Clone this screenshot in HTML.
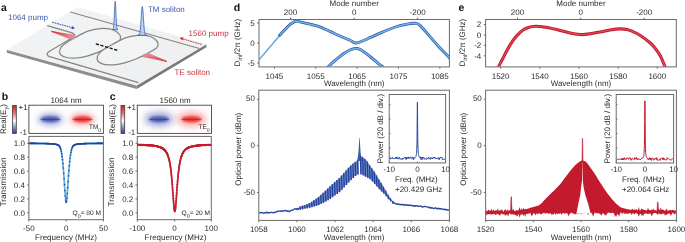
<!DOCTYPE html>
<html><head><meta charset="utf-8"><style>
html,body{margin:0;padding:0;background:#fff;width:685px;height:242px;overflow:hidden;}
svg{display:block;font-family:"Liberation Sans", sans-serif;}
#w{position:absolute;left:0;top:0;width:685px;height:242px;will-change:transform;background:#fff;}
</style></head><body><div id="w">
<svg xmlns="http://www.w3.org/2000/svg" width="685" height="242" viewBox="0 0 685 242" font-family='"Liberation Sans", sans-serif' text-rendering="geometricPrecision">
<rect width="685" height="242" fill="#fff"/>
<polygon points="6.8,49.7 136.7,85.4 136.7,89.0 6.8,52.7" fill="#8e8e8e"/>
<polygon points="136.7,85.4 206.4,44.3 206.4,47.3 136.7,89.0" fill="#7a7a7a"/>
<defs><linearGradient id="slab" x1="0" y1="0" x2="1" y2="1"><stop offset="0" stop-color="#f3f4f5"/><stop offset="1" stop-color="#eceef0"/></linearGradient></defs>
<polygon points="6.8,49.7 77.5,7 206.4,44.3 136.7,85.4" fill="url(#slab)"/>
<path d="M70.2,12.0 L199.4,48.5" stroke="#858585" stroke-width="1.2" fill="none"/>
<path d="M47.2,25.6 L70.5,32.3 C74.5,33.5 76.2,35.3 73.2,37.3 L49.5,51.2 C45.5,53.6 46.8,56.0 50.5,56.9 L138.5,82.6" stroke="#858585" stroke-width="1.2" fill="none"/>
<path d="M59.60,51.70 C59.63,50.40 60.22,48.62 61.20,47.20 C62.18,45.78 63.23,44.78 65.50,43.20 C67.77,41.62 71.05,39.72 74.80,37.70 C78.55,35.68 83.87,32.62 88.00,31.10 C92.13,29.58 96.02,28.97 99.60,28.60 C103.18,28.23 106.62,28.35 109.50,28.90 C112.38,29.45 115.07,30.63 116.90,31.90 C118.73,33.17 120.15,34.95 120.50,36.50 C120.85,38.05 120.83,39.48 119.00,41.20 C117.17,42.92 112.73,45.05 109.50,46.80 C106.27,48.55 103.18,50.20 99.60,51.70 C96.02,53.20 91.85,54.75 88.00,55.80 C84.15,56.85 80.07,57.72 76.50,58.00 C72.93,58.28 69.18,58.00 66.60,57.50 C64.02,57.00 62.17,55.97 61.00,55.00 C59.83,54.03 59.57,53.00 59.60,51.70Z" fill="#f2f3f4" stroke="#858585" stroke-width="1.25"/>
<path d="M97.10,58.50 C97.13,57.20 97.72,55.42 98.70,54.00 C99.68,52.58 100.73,51.58 103.00,50.00 C105.27,48.42 108.55,46.52 112.30,44.50 C116.05,42.48 121.37,39.42 125.50,37.90 C129.63,36.38 133.52,35.77 137.10,35.40 C140.68,35.03 144.12,35.15 147.00,35.70 C149.88,36.25 152.57,37.43 154.40,38.70 C156.23,39.97 157.65,41.75 158.00,43.30 C158.35,44.85 158.33,46.28 156.50,48.00 C154.67,49.72 150.23,51.85 147.00,53.60 C143.77,55.35 140.68,57.00 137.10,58.50 C133.52,60.00 129.35,61.55 125.50,62.60 C121.65,63.65 117.57,64.52 114.00,64.80 C110.43,65.08 106.68,64.80 104.10,64.30 C101.52,63.80 99.67,62.77 98.50,61.80 C97.33,60.83 97.07,59.80 97.10,58.50Z" fill="#f2f3f4" stroke="#858585" stroke-width="1.25"/>
<path d="M95.8,43.8 L118.5,50.6" stroke="#111" stroke-width="1.4" stroke-dasharray="3.2,1.6" fill="none"/>
<path d="M51.5,31.4 L75.5,35.4 L72.0,39.6 Z" fill="#f7dde0"/>
<line x1="51.5" y1="31.4" x2="75.50" y2="35.40" stroke="#d43a46" stroke-width="0.55"/>
<line x1="51.5" y1="31.4" x2="74.80" y2="36.24" stroke="#d43a46" stroke-width="0.55"/>
<line x1="51.5" y1="31.4" x2="74.10" y2="37.08" stroke="#d43a46" stroke-width="0.55"/>
<line x1="51.5" y1="31.4" x2="73.40" y2="37.92" stroke="#d43a46" stroke-width="0.55"/>
<line x1="51.5" y1="31.4" x2="72.70" y2="38.76" stroke="#d43a46" stroke-width="0.55"/>
<line x1="51.5" y1="31.4" x2="72.00" y2="39.60" stroke="#d43a46" stroke-width="0.55"/>
<path d="M141.5,56.4 L147.5,53.0 L166.4,61.3 Z" fill="#f7dde0"/>
<line x1="166.4" y1="61.3" x2="141.50" y2="56.40" stroke="#d43a46" stroke-width="0.55"/>
<line x1="166.4" y1="61.3" x2="142.70" y2="55.72" stroke="#d43a46" stroke-width="0.55"/>
<line x1="166.4" y1="61.3" x2="143.90" y2="55.04" stroke="#d43a46" stroke-width="0.55"/>
<line x1="166.4" y1="61.3" x2="145.10" y2="54.36" stroke="#d43a46" stroke-width="0.55"/>
<line x1="166.4" y1="61.3" x2="146.30" y2="53.68" stroke="#d43a46" stroke-width="0.55"/>
<line x1="166.4" y1="61.3" x2="147.50" y2="53.00" stroke="#d43a46" stroke-width="0.55"/>
<polygon points="112.34,29.59 112.48,29.57 112.63,29.55 112.77,29.49 112.91,29.40 113.06,29.24 113.20,28.96 113.34,28.53 113.48,27.86 113.63,26.88 113.77,25.52 113.91,23.70 114.06,21.40 114.20,18.64 114.34,15.50 114.48,12.16 114.63,8.84 114.77,5.83 114.91,3.41 115.06,1.84 115.20,1.30 115.34,1.84 115.49,3.41 115.63,5.83 115.77,8.84 115.92,12.16 116.06,15.50 116.20,18.64 116.34,21.40 116.49,23.70 116.63,25.52 116.77,26.88 116.92,27.86 117.06,28.53 117.20,28.96 117.34,29.24 117.49,29.40 117.63,29.49 117.77,29.55 117.92,29.57 118.06,29.59" fill="#a8cbec" fill-opacity="0.8" stroke="#3358aa" stroke-width="0.75"/>
<polygon points="137.90,35.39 138.12,35.37 138.34,35.35 138.56,35.29 138.78,35.20 139.00,35.03 139.22,34.75 139.44,34.30 139.66,33.62 139.88,32.62 140.10,31.23 140.32,29.38 140.54,27.03 140.76,24.21 140.98,21.00 141.20,17.59 141.42,14.20 141.64,11.12 141.86,8.65 142.08,7.05 142.30,6.50 142.52,7.05 142.74,8.65 142.96,11.12 143.18,14.20 143.40,17.59 143.62,21.00 143.84,24.21 144.06,27.03 144.28,29.38 144.50,31.23 144.72,32.62 144.94,33.62 145.16,34.30 145.38,34.75 145.60,35.03 145.82,35.20 146.04,35.29 146.26,35.35 146.48,35.37 146.70,35.39" fill="#a8cbec" fill-opacity="0.8" stroke="#3358aa" stroke-width="0.75"/>
<line x1="52.2" y1="22.2" x2="72.3" y2="27.7" stroke="#3450a8" stroke-width="0.95" stroke-dasharray="1.8,0.7"/>
<polygon points="75,28.5 71.2,29.2 72.3,25.9" fill="#3450a8"/>
<line x1="201.5" y1="44.4" x2="182" y2="38.7" stroke="#c8323c" stroke-width="0.95" stroke-dasharray="1.8,0.7"/>
<polygon points="179.6,38 183.5,37.1 182.4,40.4" fill="#c8323c"/>
<text x="1.00" y="11.30" font-size="10.5" text-anchor="start" fill="#111" font-weight="bold" >a</text>
<text x="8.00" y="20.40" font-size="8" text-anchor="start" fill="#3a5aa8" font-weight="normal" >1064 pump</text>
<text x="147.90" y="11.60" font-size="8" text-anchor="start" fill="#3a5aa8" font-weight="normal" >TM soliton</text>
<text x="188.60" y="35.50" font-size="8" text-anchor="start" fill="#c8323c" font-weight="normal" >1560 pump</text>
<text x="174.50" y="74.70" font-size="8" text-anchor="start" fill="#c8323c" font-weight="normal" >TE soliton</text>
<text x="1.70" y="100.40" font-size="10.5" text-anchor="start" fill="#111" font-weight="bold" >b</text>
<defs><linearGradient id="cbb" x1="0" y1="0" x2="0" y2="1"><stop offset="0" stop-color="#e01a1a"/><stop offset="0.3" stop-color="#f07a78"/><stop offset="0.55" stop-color="#ffffff"/><stop offset="0.8" stop-color="#8088cc"/><stop offset="1" stop-color="#3040a4"/></linearGradient></defs>
<rect x="12.6" y="105.5" width="3.700000000000001" height="27.900000000000006" fill="url(#cbb)" stroke="#3a3a3a" stroke-width="0.8"/>
<text x="18.50" y="109.80" font-size="8" text-anchor="start" fill="#2b2b2b" font-weight="normal" >+1</text>
<text x="19.80" y="134.60" font-size="8" text-anchor="start" fill="#2b2b2b" font-weight="normal" >-1</text>
<text transform="translate(6.4,134.0) rotate(-90)" font-size="8" fill="#2b2b2b">Real(E<tspan font-size="5.5" dy="1.8">y</tspan><tspan dy="-1.8">)</tspan></text>
<text x="66.00" y="103.40" font-size="8" text-anchor="middle" fill="#2b2b2b" font-weight="normal" >1064 nm</text>
<defs>
<filter id="mbf1" x="-50%" y="-100%" width="200%" height="300%"><feGaussianBlur stdDeviation="3.15"/></filter>
<filter id="mbf2" x="-50%" y="-100%" width="200%" height="300%"><feGaussianBlur stdDeviation="1.05"/></filter>
<clipPath id="mbc"><rect x="28.9" y="105.2" width="74.5" height="28.200000000000003"/></clipPath>
</defs>
<g clip-path="url(#mbc)">
<ellipse cx="50.4" cy="119.2" rx="12.5" ry="6.00" fill="#8a90d0" opacity="0.8" filter="url(#mbf1)"/>
<ellipse cx="82.4" cy="119.2" rx="12.5" ry="6.00" fill="#f49090" opacity="0.8" filter="url(#mbf1)"/>
<ellipse cx="50.4" cy="119.2" rx="9.4" ry="3.0" fill="#4654ae" opacity="0.92" filter="url(#mbf2)"/>
<ellipse cx="82.4" cy="119.2" rx="9.4" ry="3.0" fill="#e82c2c" opacity="0.92" filter="url(#mbf2)"/>
<line x1="72.5" y1="119.5" x2="92.30000000000001" y2="119.5" stroke="#6a2a2a" stroke-width="0.45"/>
<line x1="40.5" y1="119.5" x2="60.3" y2="119.5" stroke="#2a2a60" stroke-width="0.45"/>
</g>
<rect x="28.90" y="105.20" width="74.50" height="28.20" stroke="#444" stroke-width="0.9" fill="none"/>
<text x="89.0" y="128.8" font-size="6.4" fill="#2b2b2b">TM<tspan font-size="5.2" dy="3.0">0</tspan></text>
<rect x="28.90" y="136.40" width="74.50" height="83.30" stroke="#6a6a6a" stroke-width="1" fill="none"/>
<line x1="27.10" y1="212.80" x2="28.90" y2="212.80" stroke="#6a6a6a" stroke-width="1" />
<text x="24.90" y="215.70" font-size="8" text-anchor="end" fill="#2b2b2b" font-weight="normal" >0.0</text>
<line x1="27.10" y1="198.90" x2="28.90" y2="198.90" stroke="#6a6a6a" stroke-width="1" />
<text x="24.90" y="201.80" font-size="8" text-anchor="end" fill="#2b2b2b" font-weight="normal" >0.2</text>
<line x1="27.10" y1="185.00" x2="28.90" y2="185.00" stroke="#6a6a6a" stroke-width="1" />
<text x="24.90" y="187.90" font-size="8" text-anchor="end" fill="#2b2b2b" font-weight="normal" >0.4</text>
<line x1="27.10" y1="171.10" x2="28.90" y2="171.10" stroke="#6a6a6a" stroke-width="1" />
<text x="24.90" y="174.00" font-size="8" text-anchor="end" fill="#2b2b2b" font-weight="normal" >0.6</text>
<line x1="27.10" y1="157.20" x2="28.90" y2="157.20" stroke="#6a6a6a" stroke-width="1" />
<text x="24.90" y="160.10" font-size="8" text-anchor="end" fill="#2b2b2b" font-weight="normal" >0.8</text>
<line x1="27.10" y1="143.30" x2="28.90" y2="143.30" stroke="#6a6a6a" stroke-width="1" />
<text x="24.90" y="146.20" font-size="8" text-anchor="end" fill="#2b2b2b" font-weight="normal" >1.0</text>
<line x1="28.90" y1="219.70" x2="28.90" y2="221.50" stroke="#6a6a6a" stroke-width="1" />
<text x="28.90" y="231.30" font-size="8" text-anchor="middle" fill="#2b2b2b" font-weight="normal" >-50</text>
<line x1="66.20" y1="219.70" x2="66.20" y2="221.50" stroke="#6a6a6a" stroke-width="1" />
<text x="66.20" y="231.30" font-size="8" text-anchor="middle" fill="#2b2b2b" font-weight="normal" >0</text>
<line x1="103.40" y1="219.70" x2="103.40" y2="221.50" stroke="#6a6a6a" stroke-width="1" />
<text x="103.40" y="231.30" font-size="8" text-anchor="middle" fill="#2b2b2b" font-weight="normal" >50</text>
<path d="M29.50,143.39 L29.70,143.39 L29.90,143.39 L30.10,143.39 L30.30,143.39 L30.50,143.39 L30.70,143.39 L30.90,143.39 L31.10,143.39 L31.30,143.40 L31.50,143.40 L31.70,143.40 L31.90,143.40 L32.10,143.40 L32.30,143.40 L32.50,143.40 L32.70,143.40 L32.90,143.41 L33.10,143.41 L33.30,143.41 L33.50,143.41 L33.70,143.41 L33.90,143.41 L34.10,143.41 L34.30,143.41 L34.50,143.42 L34.70,143.42 L34.90,143.42 L35.10,143.42 L35.30,143.42 L35.50,143.42 L35.70,143.43 L35.90,143.43 L36.10,143.43 L36.30,143.43 L36.50,143.43 L36.70,143.43 L36.90,143.44 L37.10,143.44 L37.30,143.44 L37.50,143.44 L37.70,143.44 L37.90,143.45 L38.10,143.45 L38.30,143.45 L38.50,143.45 L38.70,143.45 L38.90,143.46 L39.10,143.46 L39.30,143.46 L39.50,143.46 L39.70,143.47 L39.90,143.47 L40.10,143.47 L40.30,143.47 L40.50,143.48 L40.70,143.48 L40.90,143.48 L41.10,143.48 L41.30,143.49 L41.50,143.49 L41.70,143.49 L41.90,143.50 L42.10,143.50 L42.30,143.50 L42.50,143.51 L42.70,143.51 L42.90,143.51 L43.10,143.52 L43.30,143.52 L43.50,143.53 L43.70,143.53 L43.90,143.53 L44.10,143.54 L44.30,143.54 L44.50,143.55 L44.70,143.55 L44.90,143.56 L45.10,143.56 L45.30,143.57 L45.50,143.57 L45.70,143.58 L45.90,143.58 L46.10,143.59 L46.30,143.59 L46.50,143.60 L46.70,143.60 L46.90,143.61 L47.10,143.62 L47.30,143.62 L47.50,143.63 L47.70,143.64 L47.90,143.65 L48.10,143.65 L48.30,143.66 L48.50,143.67 L48.70,143.68 L48.90,143.69 L49.10,143.69 L49.30,143.70 L49.50,143.71 L49.70,143.72 L49.90,143.73 L50.10,143.74 L50.30,143.76 L50.50,143.77 L50.70,143.78 L50.90,143.79 L51.10,143.80 L51.30,143.82 L51.50,143.83 L51.70,143.85 L51.90,143.86 L52.10,143.88 L52.30,143.89 L52.50,143.91 L52.70,143.93 L52.90,143.95 L53.10,143.97 L53.30,143.99 L53.50,144.01 L53.70,144.03 L53.90,144.05 L54.10,144.08 L54.30,144.10 L54.50,144.13 L54.70,144.16 L54.90,144.19 L55.10,144.22 L55.30,144.25 L55.50,144.29 L55.70,144.32 L55.90,144.36 L56.10,144.41 L56.30,144.45 L56.50,144.50 L56.70,144.55 L56.90,144.61 L57.10,144.67 L57.30,144.74 L57.50,144.81 L57.70,144.89 L57.90,144.98 L58.10,145.08 L58.30,145.20 L58.50,145.33 L58.70,145.48 L58.90,145.65 L59.10,145.85 L59.30,146.07 L59.50,146.34 L59.70,146.64 L59.90,146.99 L60.10,147.40 L60.30,147.87 L60.50,148.41 L60.70,149.03 L60.90,149.74 L61.10,150.55 L61.30,151.47 L61.50,152.50 L61.70,153.66 L61.90,154.95 L62.10,156.38 L62.30,157.95 L62.50,159.68 L62.70,161.56 L62.90,163.59 L63.10,165.77 L63.30,168.10 L63.50,170.58 L63.70,173.18 L63.90,175.91 L64.10,178.75 L64.30,181.67 L64.50,184.64 L64.70,187.63 L64.90,190.58 L65.10,193.41 L65.30,196.04 L65.50,198.36 L65.70,200.25 L65.90,201.59 L66.10,202.29 L66.30,202.29 L66.50,201.59 L66.70,200.25 L66.90,198.36 L67.10,196.04 L67.30,193.41 L67.50,190.58 L67.70,187.63 L67.90,184.64 L68.10,181.67 L68.30,178.75 L68.50,175.91 L68.70,173.18 L68.90,170.58 L69.10,168.10 L69.30,165.77 L69.50,163.59 L69.70,161.56 L69.90,159.68 L70.10,157.95 L70.30,156.38 L70.50,154.95 L70.70,153.66 L70.90,152.50 L71.10,151.47 L71.30,150.55 L71.50,149.74 L71.70,149.03 L71.90,148.41 L72.10,147.87 L72.30,147.40 L72.50,146.99 L72.70,146.64 L72.90,146.34 L73.10,146.07 L73.30,145.85 L73.50,145.65 L73.70,145.48 L73.90,145.33 L74.10,145.20 L74.30,145.08 L74.50,144.98 L74.70,144.89 L74.90,144.81 L75.10,144.74 L75.30,144.67 L75.50,144.61 L75.70,144.55 L75.90,144.50 L76.10,144.45 L76.30,144.41 L76.50,144.36 L76.70,144.32 L76.90,144.29 L77.10,144.25 L77.30,144.22 L77.50,144.19 L77.70,144.16 L77.90,144.13 L78.10,144.10 L78.30,144.08 L78.50,144.05 L78.70,144.03 L78.90,144.01 L79.10,143.99 L79.30,143.97 L79.50,143.95 L79.70,143.93 L79.90,143.91 L80.10,143.89 L80.30,143.88 L80.50,143.86 L80.70,143.85 L80.90,143.83 L81.10,143.82 L81.30,143.80 L81.50,143.79 L81.70,143.78 L81.90,143.77 L82.10,143.76 L82.30,143.74 L82.50,143.73 L82.70,143.72 L82.90,143.71 L83.10,143.70 L83.30,143.69 L83.50,143.69 L83.70,143.68 L83.90,143.67 L84.10,143.66 L84.30,143.65 L84.50,143.65 L84.70,143.64 L84.90,143.63 L85.10,143.62 L85.30,143.62 L85.50,143.61 L85.70,143.60 L85.90,143.60 L86.10,143.59 L86.30,143.59 L86.50,143.58 L86.70,143.58 L86.90,143.57 L87.10,143.57 L87.30,143.56 L87.50,143.56 L87.70,143.55 L87.90,143.55 L88.10,143.54 L88.30,143.54 L88.50,143.53 L88.70,143.53 L88.90,143.53 L89.10,143.52 L89.30,143.52 L89.50,143.51 L89.70,143.51 L89.90,143.51 L90.10,143.50 L90.30,143.50 L90.50,143.50 L90.70,143.49 L90.90,143.49 L91.10,143.49 L91.30,143.48 L91.50,143.48 L91.70,143.48 L91.90,143.48 L92.10,143.47 L92.30,143.47 L92.50,143.47 L92.70,143.47 L92.90,143.46 L93.10,143.46 L93.30,143.46 L93.50,143.46 L93.70,143.45 L93.90,143.45 L94.10,143.45 L94.30,143.45 L94.50,143.45 L94.70,143.44 L94.90,143.44 L95.10,143.44 L95.30,143.44 L95.50,143.44 L95.70,143.43 L95.90,143.43 L96.10,143.43 L96.30,143.43 L96.50,143.43 L96.70,143.43 L96.90,143.42 L97.10,143.42 L97.30,143.42 L97.50,143.42 L97.70,143.42 L97.90,143.42 L98.10,143.41 L98.30,143.41 L98.50,143.41 L98.70,143.41 L98.90,143.41 L99.10,143.41 L99.30,143.41 L99.50,143.41 L99.70,143.40 L99.90,143.40 L100.10,143.40 L100.30,143.40 L100.50,143.40 L100.70,143.40 L100.90,143.40 L101.10,143.40 L101.30,143.39 L101.50,143.39 L101.70,143.39 L101.90,143.39 L102.10,143.39 L102.30,143.39 L102.50,143.39 L102.70,143.39" stroke="#62aee4" stroke-width="1.7" fill="none"/>
<circle cx="29.70" cy="143.39" r="0.8" fill="#22449c"/>
<circle cx="30.10" cy="143.39" r="0.8" fill="#22449c"/>
<circle cx="30.50" cy="143.39" r="0.8" fill="#22449c"/>
<circle cx="30.90" cy="143.39" r="0.8" fill="#22449c"/>
<circle cx="31.30" cy="143.40" r="0.8" fill="#22449c"/>
<circle cx="31.70" cy="143.40" r="0.8" fill="#22449c"/>
<circle cx="32.10" cy="143.40" r="0.8" fill="#22449c"/>
<circle cx="32.50" cy="143.40" r="0.8" fill="#22449c"/>
<circle cx="32.90" cy="143.41" r="0.8" fill="#22449c"/>
<circle cx="33.30" cy="143.41" r="0.8" fill="#22449c"/>
<circle cx="33.70" cy="143.41" r="0.8" fill="#22449c"/>
<circle cx="34.10" cy="143.41" r="0.8" fill="#22449c"/>
<circle cx="34.50" cy="143.42" r="0.8" fill="#22449c"/>
<circle cx="34.90" cy="143.42" r="0.8" fill="#22449c"/>
<circle cx="35.30" cy="143.42" r="0.8" fill="#22449c"/>
<circle cx="35.70" cy="143.43" r="0.8" fill="#22449c"/>
<circle cx="36.10" cy="143.43" r="0.8" fill="#22449c"/>
<circle cx="36.50" cy="143.43" r="0.8" fill="#22449c"/>
<circle cx="36.90" cy="143.44" r="0.8" fill="#22449c"/>
<circle cx="37.30" cy="143.44" r="0.8" fill="#22449c"/>
<circle cx="37.70" cy="143.44" r="0.8" fill="#22449c"/>
<circle cx="38.10" cy="143.45" r="0.8" fill="#22449c"/>
<circle cx="38.50" cy="143.45" r="0.8" fill="#22449c"/>
<circle cx="38.90" cy="143.46" r="0.8" fill="#22449c"/>
<circle cx="39.30" cy="143.46" r="0.8" fill="#22449c"/>
<circle cx="39.70" cy="143.47" r="0.8" fill="#22449c"/>
<circle cx="40.10" cy="143.47" r="0.8" fill="#22449c"/>
<circle cx="40.50" cy="143.48" r="0.8" fill="#22449c"/>
<circle cx="40.90" cy="143.48" r="0.8" fill="#22449c"/>
<circle cx="41.30" cy="143.49" r="0.8" fill="#22449c"/>
<circle cx="41.70" cy="143.49" r="0.8" fill="#22449c"/>
<circle cx="42.10" cy="143.50" r="0.8" fill="#22449c"/>
<circle cx="42.50" cy="143.51" r="0.8" fill="#22449c"/>
<circle cx="42.90" cy="143.51" r="0.8" fill="#22449c"/>
<circle cx="43.30" cy="143.52" r="0.8" fill="#22449c"/>
<circle cx="43.70" cy="143.53" r="0.8" fill="#22449c"/>
<circle cx="44.10" cy="143.54" r="0.8" fill="#22449c"/>
<circle cx="44.50" cy="143.55" r="0.8" fill="#22449c"/>
<circle cx="44.90" cy="143.56" r="0.8" fill="#22449c"/>
<circle cx="45.30" cy="143.57" r="0.8" fill="#22449c"/>
<circle cx="45.70" cy="143.58" r="0.8" fill="#22449c"/>
<circle cx="46.10" cy="143.59" r="0.8" fill="#22449c"/>
<circle cx="46.50" cy="143.60" r="0.8" fill="#22449c"/>
<circle cx="46.90" cy="143.61" r="0.8" fill="#22449c"/>
<circle cx="47.30" cy="143.62" r="0.8" fill="#22449c"/>
<circle cx="47.70" cy="143.64" r="0.8" fill="#22449c"/>
<circle cx="48.10" cy="143.65" r="0.8" fill="#22449c"/>
<circle cx="48.50" cy="143.67" r="0.8" fill="#22449c"/>
<circle cx="48.90" cy="143.69" r="0.8" fill="#22449c"/>
<circle cx="49.30" cy="143.70" r="0.8" fill="#22449c"/>
<circle cx="49.70" cy="143.72" r="0.8" fill="#22449c"/>
<circle cx="50.10" cy="143.74" r="0.8" fill="#22449c"/>
<circle cx="50.50" cy="143.77" r="0.8" fill="#22449c"/>
<circle cx="50.90" cy="143.79" r="0.8" fill="#22449c"/>
<circle cx="51.30" cy="143.82" r="0.8" fill="#22449c"/>
<circle cx="51.70" cy="143.85" r="0.8" fill="#22449c"/>
<circle cx="52.10" cy="143.88" r="0.8" fill="#22449c"/>
<circle cx="52.50" cy="143.91" r="0.8" fill="#22449c"/>
<circle cx="52.90" cy="143.95" r="0.8" fill="#22449c"/>
<circle cx="53.30" cy="143.99" r="0.8" fill="#22449c"/>
<circle cx="53.70" cy="144.03" r="0.8" fill="#22449c"/>
<circle cx="54.10" cy="144.08" r="0.8" fill="#22449c"/>
<circle cx="54.50" cy="144.13" r="0.8" fill="#22449c"/>
<circle cx="54.90" cy="144.19" r="0.8" fill="#22449c"/>
<circle cx="55.30" cy="144.25" r="0.8" fill="#22449c"/>
<circle cx="55.70" cy="144.32" r="0.8" fill="#22449c"/>
<circle cx="56.10" cy="144.41" r="0.8" fill="#22449c"/>
<circle cx="56.50" cy="144.50" r="0.8" fill="#22449c"/>
<circle cx="56.90" cy="144.61" r="0.8" fill="#22449c"/>
<circle cx="57.30" cy="144.74" r="0.8" fill="#22449c"/>
<circle cx="57.70" cy="144.89" r="0.8" fill="#22449c"/>
<circle cx="58.10" cy="145.08" r="0.8" fill="#22449c"/>
<circle cx="58.50" cy="145.33" r="0.8" fill="#22449c"/>
<circle cx="58.90" cy="145.65" r="0.8" fill="#22449c"/>
<circle cx="59.30" cy="146.07" r="0.8" fill="#22449c"/>
<circle cx="59.70" cy="146.64" r="0.8" fill="#22449c"/>
<circle cx="60.10" cy="147.40" r="0.8" fill="#22449c"/>
<circle cx="60.50" cy="148.41" r="0.8" fill="#22449c"/>
<circle cx="60.90" cy="149.74" r="0.8" fill="#22449c"/>
<circle cx="61.30" cy="151.47" r="0.8" fill="#22449c"/>
<circle cx="61.70" cy="153.66" r="0.8" fill="#22449c"/>
<circle cx="62.10" cy="156.38" r="0.8" fill="#22449c"/>
<circle cx="62.50" cy="159.68" r="0.8" fill="#22449c"/>
<circle cx="62.90" cy="163.59" r="0.8" fill="#22449c"/>
<circle cx="63.30" cy="168.10" r="0.8" fill="#22449c"/>
<circle cx="63.70" cy="173.18" r="0.8" fill="#22449c"/>
<circle cx="64.10" cy="178.75" r="0.8" fill="#22449c"/>
<circle cx="64.50" cy="184.64" r="0.8" fill="#22449c"/>
<circle cx="64.90" cy="190.58" r="0.8" fill="#22449c"/>
<circle cx="65.30" cy="196.04" r="0.8" fill="#22449c"/>
<circle cx="65.70" cy="200.25" r="0.8" fill="#22449c"/>
<circle cx="66.10" cy="202.29" r="0.8" fill="#22449c"/>
<circle cx="66.50" cy="201.59" r="0.8" fill="#22449c"/>
<circle cx="66.90" cy="198.36" r="0.8" fill="#22449c"/>
<circle cx="67.30" cy="193.41" r="0.8" fill="#22449c"/>
<circle cx="67.70" cy="187.63" r="0.8" fill="#22449c"/>
<circle cx="68.10" cy="181.67" r="0.8" fill="#22449c"/>
<circle cx="68.50" cy="175.91" r="0.8" fill="#22449c"/>
<circle cx="68.90" cy="170.58" r="0.8" fill="#22449c"/>
<circle cx="69.30" cy="165.77" r="0.8" fill="#22449c"/>
<circle cx="69.70" cy="161.56" r="0.8" fill="#22449c"/>
<circle cx="70.10" cy="157.95" r="0.8" fill="#22449c"/>
<circle cx="70.50" cy="154.95" r="0.8" fill="#22449c"/>
<circle cx="70.90" cy="152.50" r="0.8" fill="#22449c"/>
<circle cx="71.30" cy="150.55" r="0.8" fill="#22449c"/>
<circle cx="71.70" cy="149.03" r="0.8" fill="#22449c"/>
<circle cx="72.10" cy="147.87" r="0.8" fill="#22449c"/>
<circle cx="72.50" cy="146.99" r="0.8" fill="#22449c"/>
<circle cx="72.90" cy="146.34" r="0.8" fill="#22449c"/>
<circle cx="73.30" cy="145.85" r="0.8" fill="#22449c"/>
<circle cx="73.70" cy="145.48" r="0.8" fill="#22449c"/>
<circle cx="74.10" cy="145.20" r="0.8" fill="#22449c"/>
<circle cx="74.50" cy="144.98" r="0.8" fill="#22449c"/>
<circle cx="74.90" cy="144.81" r="0.8" fill="#22449c"/>
<circle cx="75.30" cy="144.67" r="0.8" fill="#22449c"/>
<circle cx="75.70" cy="144.55" r="0.8" fill="#22449c"/>
<circle cx="76.10" cy="144.45" r="0.8" fill="#22449c"/>
<circle cx="76.50" cy="144.36" r="0.8" fill="#22449c"/>
<circle cx="76.90" cy="144.29" r="0.8" fill="#22449c"/>
<circle cx="77.30" cy="144.22" r="0.8" fill="#22449c"/>
<circle cx="77.70" cy="144.16" r="0.8" fill="#22449c"/>
<circle cx="78.10" cy="144.10" r="0.8" fill="#22449c"/>
<circle cx="78.50" cy="144.05" r="0.8" fill="#22449c"/>
<circle cx="78.90" cy="144.01" r="0.8" fill="#22449c"/>
<circle cx="79.30" cy="143.97" r="0.8" fill="#22449c"/>
<circle cx="79.70" cy="143.93" r="0.8" fill="#22449c"/>
<circle cx="80.10" cy="143.89" r="0.8" fill="#22449c"/>
<circle cx="80.50" cy="143.86" r="0.8" fill="#22449c"/>
<circle cx="80.90" cy="143.83" r="0.8" fill="#22449c"/>
<circle cx="81.30" cy="143.80" r="0.8" fill="#22449c"/>
<circle cx="81.70" cy="143.78" r="0.8" fill="#22449c"/>
<circle cx="82.10" cy="143.76" r="0.8" fill="#22449c"/>
<circle cx="82.50" cy="143.73" r="0.8" fill="#22449c"/>
<circle cx="82.90" cy="143.71" r="0.8" fill="#22449c"/>
<circle cx="83.30" cy="143.69" r="0.8" fill="#22449c"/>
<circle cx="83.70" cy="143.68" r="0.8" fill="#22449c"/>
<circle cx="84.10" cy="143.66" r="0.8" fill="#22449c"/>
<circle cx="84.50" cy="143.65" r="0.8" fill="#22449c"/>
<circle cx="84.90" cy="143.63" r="0.8" fill="#22449c"/>
<circle cx="85.30" cy="143.62" r="0.8" fill="#22449c"/>
<circle cx="85.70" cy="143.60" r="0.8" fill="#22449c"/>
<circle cx="86.10" cy="143.59" r="0.8" fill="#22449c"/>
<circle cx="86.50" cy="143.58" r="0.8" fill="#22449c"/>
<circle cx="86.90" cy="143.57" r="0.8" fill="#22449c"/>
<circle cx="87.30" cy="143.56" r="0.8" fill="#22449c"/>
<circle cx="87.70" cy="143.55" r="0.8" fill="#22449c"/>
<circle cx="88.10" cy="143.54" r="0.8" fill="#22449c"/>
<circle cx="88.50" cy="143.53" r="0.8" fill="#22449c"/>
<circle cx="88.90" cy="143.53" r="0.8" fill="#22449c"/>
<circle cx="89.30" cy="143.52" r="0.8" fill="#22449c"/>
<circle cx="89.70" cy="143.51" r="0.8" fill="#22449c"/>
<circle cx="90.10" cy="143.50" r="0.8" fill="#22449c"/>
<circle cx="90.50" cy="143.50" r="0.8" fill="#22449c"/>
<circle cx="90.90" cy="143.49" r="0.8" fill="#22449c"/>
<circle cx="91.30" cy="143.48" r="0.8" fill="#22449c"/>
<circle cx="91.70" cy="143.48" r="0.8" fill="#22449c"/>
<circle cx="92.10" cy="143.47" r="0.8" fill="#22449c"/>
<circle cx="92.50" cy="143.47" r="0.8" fill="#22449c"/>
<circle cx="92.90" cy="143.46" r="0.8" fill="#22449c"/>
<circle cx="93.30" cy="143.46" r="0.8" fill="#22449c"/>
<circle cx="93.70" cy="143.45" r="0.8" fill="#22449c"/>
<circle cx="94.10" cy="143.45" r="0.8" fill="#22449c"/>
<circle cx="94.50" cy="143.45" r="0.8" fill="#22449c"/>
<circle cx="94.90" cy="143.44" r="0.8" fill="#22449c"/>
<circle cx="95.30" cy="143.44" r="0.8" fill="#22449c"/>
<circle cx="95.70" cy="143.43" r="0.8" fill="#22449c"/>
<circle cx="96.10" cy="143.43" r="0.8" fill="#22449c"/>
<circle cx="96.50" cy="143.43" r="0.8" fill="#22449c"/>
<circle cx="96.90" cy="143.42" r="0.8" fill="#22449c"/>
<circle cx="97.30" cy="143.42" r="0.8" fill="#22449c"/>
<circle cx="97.70" cy="143.42" r="0.8" fill="#22449c"/>
<circle cx="98.10" cy="143.41" r="0.8" fill="#22449c"/>
<circle cx="98.50" cy="143.41" r="0.8" fill="#22449c"/>
<circle cx="98.90" cy="143.41" r="0.8" fill="#22449c"/>
<circle cx="99.30" cy="143.41" r="0.8" fill="#22449c"/>
<circle cx="99.70" cy="143.40" r="0.8" fill="#22449c"/>
<circle cx="100.10" cy="143.40" r="0.8" fill="#22449c"/>
<circle cx="100.50" cy="143.40" r="0.8" fill="#22449c"/>
<circle cx="100.90" cy="143.40" r="0.8" fill="#22449c"/>
<circle cx="101.30" cy="143.39" r="0.8" fill="#22449c"/>
<circle cx="101.70" cy="143.39" r="0.8" fill="#22449c"/>
<circle cx="102.10" cy="143.39" r="0.8" fill="#22449c"/>
<circle cx="102.50" cy="143.39" r="0.8" fill="#22449c"/>
<text x="72.5" y="215.3" font-size="6.6" fill="#2b2b2b">Q<tspan font-size="5.4" dy="2.8">0</tspan><tspan dy="-2.8">= 80 M</tspan></text>
<text transform="translate(6.3,182.0) rotate(-90)" font-size="8.3" fill="#2b2b2b" text-anchor="middle">Transmission</text>
<text x="66.00" y="239.50" font-size="8" text-anchor="middle" fill="#2b2b2b" font-weight="normal" >Frequency (MHz)</text>
<text x="109.70" y="100.40" font-size="10.5" text-anchor="start" fill="#111" font-weight="bold" >c</text>
<defs><linearGradient id="cbc" x1="0" y1="0" x2="0" y2="1"><stop offset="0" stop-color="#e01a1a"/><stop offset="0.3" stop-color="#f07a78"/><stop offset="0.55" stop-color="#ffffff"/><stop offset="0.8" stop-color="#8088cc"/><stop offset="1" stop-color="#3040a4"/></linearGradient></defs>
<rect x="121.0" y="105.5" width="3.700000000000003" height="27.900000000000006" fill="url(#cbc)" stroke="#3a3a3a" stroke-width="0.8"/>
<text x="126.90" y="109.80" font-size="8" text-anchor="start" fill="#2b2b2b" font-weight="normal" >+1</text>
<text x="128.20" y="134.60" font-size="8" text-anchor="start" fill="#2b2b2b" font-weight="normal" >-1</text>
<text transform="translate(114.6,134.0) rotate(-90)" font-size="8" fill="#2b2b2b">Real(E<tspan font-size="5.5" dy="1.8">x</tspan><tspan dy="-1.8">)</tspan></text>
<text x="175.10" y="103.40" font-size="8" text-anchor="middle" fill="#2b2b2b" font-weight="normal" >1560 nm</text>
<defs>
<filter id="mcf1" x="-50%" y="-100%" width="200%" height="300%"><feGaussianBlur stdDeviation="3.78"/></filter>
<filter id="mcf2" x="-50%" y="-100%" width="200%" height="300%"><feGaussianBlur stdDeviation="1.05"/></filter>
<clipPath id="mcc"><rect x="137.3" y="105.2" width="74.19999999999999" height="28.200000000000003"/></clipPath>
</defs>
<g clip-path="url(#mcc)">
<ellipse cx="159.0" cy="119.2" rx="14.5" ry="7.20" fill="#8a90d0" opacity="0.8" filter="url(#mcf1)"/>
<ellipse cx="191.5" cy="119.2" rx="14.5" ry="7.20" fill="#f49090" opacity="0.8" filter="url(#mcf1)"/>
<ellipse cx="159.0" cy="119.2" rx="9.6" ry="3.0" fill="#4654ae" opacity="0.92" filter="url(#mcf2)"/>
<ellipse cx="191.5" cy="119.2" rx="9.6" ry="3.0" fill="#e82c2c" opacity="0.92" filter="url(#mcf2)"/>
<line x1="181.4" y1="119.5" x2="201.6" y2="119.5" stroke="#6a2a2a" stroke-width="0.45"/>
<line x1="148.9" y1="119.5" x2="169.1" y2="119.5" stroke="#2a2a60" stroke-width="0.45"/>
</g>
<rect x="137.30" y="105.20" width="74.20" height="28.20" stroke="#444" stroke-width="0.9" fill="none"/>
<text x="198.6" y="128.8" font-size="6.4" fill="#2b2b2b">TE<tspan font-size="5.2" dy="3.0">0</tspan></text>
<rect x="137.30" y="136.40" width="74.00" height="83.30" stroke="#6a6a6a" stroke-width="1" fill="none"/>
<line x1="135.50" y1="212.80" x2="137.30" y2="212.80" stroke="#6a6a6a" stroke-width="1" />
<text x="133.30" y="215.70" font-size="8" text-anchor="end" fill="#2b2b2b" font-weight="normal" >0.0</text>
<line x1="135.50" y1="198.90" x2="137.30" y2="198.90" stroke="#6a6a6a" stroke-width="1" />
<text x="133.30" y="201.80" font-size="8" text-anchor="end" fill="#2b2b2b" font-weight="normal" >0.2</text>
<line x1="135.50" y1="185.00" x2="137.30" y2="185.00" stroke="#6a6a6a" stroke-width="1" />
<text x="133.30" y="187.90" font-size="8" text-anchor="end" fill="#2b2b2b" font-weight="normal" >0.4</text>
<line x1="135.50" y1="171.10" x2="137.30" y2="171.10" stroke="#6a6a6a" stroke-width="1" />
<text x="133.30" y="174.00" font-size="8" text-anchor="end" fill="#2b2b2b" font-weight="normal" >0.6</text>
<line x1="135.50" y1="157.20" x2="137.30" y2="157.20" stroke="#6a6a6a" stroke-width="1" />
<text x="133.30" y="160.10" font-size="8" text-anchor="end" fill="#2b2b2b" font-weight="normal" >0.8</text>
<line x1="135.50" y1="143.30" x2="137.30" y2="143.30" stroke="#6a6a6a" stroke-width="1" />
<text x="133.30" y="146.20" font-size="8" text-anchor="end" fill="#2b2b2b" font-weight="normal" >1.0</text>
<line x1="137.30" y1="219.70" x2="137.30" y2="221.50" stroke="#6a6a6a" stroke-width="1" />
<text x="137.30" y="231.30" font-size="8" text-anchor="middle" fill="#2b2b2b" font-weight="normal" >-100</text>
<line x1="174.60" y1="219.70" x2="174.60" y2="221.50" stroke="#6a6a6a" stroke-width="1" />
<text x="174.60" y="231.30" font-size="8" text-anchor="middle" fill="#2b2b2b" font-weight="normal" >0</text>
<line x1="211.30" y1="219.70" x2="211.30" y2="221.50" stroke="#6a6a6a" stroke-width="1" />
<text x="211.30" y="231.30" font-size="8" text-anchor="middle" fill="#2b2b2b" font-weight="normal" >100</text>
<path d="M137.90,144.81 L138.10,144.82 L138.30,144.82 L138.50,144.83 L138.70,144.83 L138.90,144.84 L139.10,144.84 L139.30,144.85 L139.50,144.85 L139.70,144.86 L139.90,144.87 L140.10,144.87 L140.30,144.88 L140.50,144.88 L140.70,144.89 L140.90,144.90 L141.10,144.90 L141.30,144.91 L141.50,144.92 L141.70,144.92 L141.90,144.93 L142.10,144.94 L142.30,144.95 L142.50,144.95 L142.70,144.96 L142.90,144.97 L143.10,144.98 L143.30,144.98 L143.50,144.99 L143.70,145.00 L143.90,145.01 L144.10,145.02 L144.30,145.03 L144.50,145.04 L144.70,145.04 L144.90,145.05 L145.10,145.06 L145.30,145.07 L145.50,145.08 L145.70,145.09 L145.90,145.10 L146.10,145.11 L146.30,145.12 L146.50,145.14 L146.70,145.15 L146.90,145.16 L147.10,145.17 L147.30,145.18 L147.50,145.19 L147.70,145.21 L147.90,145.22 L148.10,145.23 L148.30,145.25 L148.50,145.26 L148.70,145.27 L148.90,145.29 L149.10,145.30 L149.30,145.32 L149.50,145.33 L149.70,145.35 L149.90,145.36 L150.10,145.38 L150.30,145.40 L150.50,145.41 L150.70,145.43 L150.90,145.45 L151.10,145.47 L151.30,145.49 L151.50,145.51 L151.70,145.53 L151.90,145.55 L152.10,145.57 L152.30,145.59 L152.50,145.61 L152.70,145.63 L152.90,145.66 L153.10,145.68 L153.30,145.70 L153.50,145.73 L153.70,145.76 L153.90,145.78 L154.10,145.81 L154.30,145.84 L154.50,145.87 L154.70,145.90 L154.90,145.93 L155.10,145.96 L155.30,145.99 L155.50,146.02 L155.70,146.06 L155.90,146.09 L156.10,146.13 L156.30,146.17 L156.50,146.21 L156.70,146.25 L156.90,146.29 L157.10,146.33 L157.30,146.38 L157.50,146.42 L157.70,146.47 L157.90,146.52 L158.10,146.57 L158.30,146.62 L158.50,146.68 L158.70,146.73 L158.90,146.79 L159.10,146.85 L159.30,146.91 L159.50,146.98 L159.70,147.05 L159.90,147.12 L160.10,147.19 L160.30,147.26 L160.50,147.34 L160.70,147.43 L160.90,147.51 L161.10,147.60 L161.30,147.69 L161.50,147.79 L161.70,147.89 L161.90,147.99 L162.10,148.10 L162.30,148.22 L162.50,148.34 L162.70,148.46 L162.90,148.59 L163.10,148.73 L163.30,148.87 L163.50,149.02 L163.70,149.18 L163.90,149.35 L164.10,149.52 L164.30,149.70 L164.50,149.90 L164.70,150.10 L164.90,150.31 L165.10,150.54 L165.30,150.78 L165.50,151.03 L165.70,151.29 L165.90,151.58 L166.10,151.87 L166.30,152.19 L166.50,152.53 L166.70,152.88 L166.90,153.26 L167.10,153.67 L167.30,154.10 L167.50,154.56 L167.70,155.05 L167.90,155.57 L168.10,156.13 L168.30,156.73 L168.50,157.38 L168.70,158.07 L168.90,158.81 L169.10,159.60 L169.30,160.46 L169.50,161.39 L169.70,162.38 L169.90,163.45 L170.10,164.61 L170.30,165.86 L170.50,167.21 L170.70,168.66 L170.90,170.23 L171.10,171.92 L171.30,173.73 L171.50,175.68 L171.70,177.77 L171.90,180.00 L172.10,182.36 L172.30,184.85 L172.50,187.46 L172.70,190.17 L172.90,192.94 L173.10,195.74 L173.30,198.52 L173.50,201.20 L173.70,203.72 L173.90,206.00 L174.10,207.96 L174.30,209.51 L174.50,210.58 L174.70,211.13 L174.90,211.13 L175.10,210.58 L175.30,209.51 L175.50,207.96 L175.70,206.00 L175.90,203.72 L176.10,201.20 L176.30,198.52 L176.50,195.74 L176.70,192.94 L176.90,190.17 L177.10,187.46 L177.30,184.85 L177.50,182.36 L177.70,180.00 L177.90,177.77 L178.10,175.68 L178.30,173.73 L178.50,171.92 L178.70,170.23 L178.90,168.66 L179.10,167.21 L179.30,165.86 L179.50,164.61 L179.70,163.45 L179.90,162.38 L180.10,161.39 L180.30,160.46 L180.50,159.60 L180.70,158.81 L180.90,158.07 L181.10,157.38 L181.30,156.73 L181.50,156.13 L181.70,155.57 L181.90,155.05 L182.10,154.56 L182.30,154.10 L182.50,153.67 L182.70,153.26 L182.90,152.88 L183.10,152.53 L183.30,152.19 L183.50,151.87 L183.70,151.58 L183.90,151.29 L184.10,151.03 L184.30,150.78 L184.50,150.54 L184.70,150.31 L184.90,150.10 L185.10,149.90 L185.30,149.70 L185.50,149.52 L185.70,149.35 L185.90,149.18 L186.10,149.02 L186.30,148.87 L186.50,148.73 L186.70,148.59 L186.90,148.46 L187.10,148.34 L187.30,148.22 L187.50,148.10 L187.70,147.99 L187.90,147.89 L188.10,147.79 L188.30,147.69 L188.50,147.60 L188.70,147.51 L188.90,147.43 L189.10,147.34 L189.30,147.26 L189.50,147.19 L189.70,147.12 L189.90,147.05 L190.10,146.98 L190.30,146.91 L190.50,146.85 L190.70,146.79 L190.90,146.73 L191.10,146.68 L191.30,146.62 L191.50,146.57 L191.70,146.52 L191.90,146.47 L192.10,146.42 L192.30,146.38 L192.50,146.33 L192.70,146.29 L192.90,146.25 L193.10,146.21 L193.30,146.17 L193.50,146.13 L193.70,146.09 L193.90,146.06 L194.10,146.02 L194.30,145.99 L194.50,145.96 L194.70,145.93 L194.90,145.90 L195.10,145.87 L195.30,145.84 L195.50,145.81 L195.70,145.78 L195.90,145.76 L196.10,145.73 L196.30,145.70 L196.50,145.68 L196.70,145.66 L196.90,145.63 L197.10,145.61 L197.30,145.59 L197.50,145.57 L197.70,145.55 L197.90,145.53 L198.10,145.51 L198.30,145.49 L198.50,145.47 L198.70,145.45 L198.90,145.43 L199.10,145.41 L199.30,145.40 L199.50,145.38 L199.70,145.36 L199.90,145.35 L200.10,145.33 L200.30,145.32 L200.50,145.30 L200.70,145.29 L200.90,145.27 L201.10,145.26 L201.30,145.25 L201.50,145.23 L201.70,145.22 L201.90,145.21 L202.10,145.19 L202.30,145.18 L202.50,145.17 L202.70,145.16 L202.90,145.15 L203.10,145.14 L203.30,145.12 L203.50,145.11 L203.70,145.10 L203.90,145.09 L204.10,145.08 L204.30,145.07 L204.50,145.06 L204.70,145.05 L204.90,145.04 L205.10,145.04 L205.30,145.03 L205.50,145.02 L205.70,145.01 L205.90,145.00 L206.10,144.99 L206.30,144.98 L206.50,144.98 L206.70,144.97 L206.90,144.96 L207.10,144.95 L207.30,144.95 L207.50,144.94 L207.70,144.93 L207.90,144.92 L208.10,144.92 L208.30,144.91 L208.50,144.90 L208.70,144.90 L208.90,144.89 L209.10,144.88 L209.30,144.88 L209.50,144.87 L209.70,144.87 L209.90,144.86 L210.10,144.85 L210.30,144.85 L210.50,144.84" stroke="#c8283a" stroke-width="1.7" fill="none"/>
<circle cx="138.10" cy="144.61" r="0.9" fill="#c41e2e"/>
<circle cx="138.30" cy="144.52" r="0.9" fill="#c41e2e"/>
<circle cx="138.50" cy="145.09" r="0.9" fill="#c41e2e"/>
<circle cx="138.70" cy="145.06" r="0.9" fill="#c41e2e"/>
<circle cx="138.90" cy="145.13" r="0.9" fill="#c41e2e"/>
<circle cx="139.10" cy="144.80" r="0.9" fill="#c41e2e"/>
<circle cx="139.30" cy="145.12" r="0.9" fill="#c41e2e"/>
<circle cx="139.50" cy="145.11" r="0.9" fill="#c41e2e"/>
<circle cx="139.70" cy="144.69" r="0.9" fill="#c41e2e"/>
<circle cx="139.90" cy="145.01" r="0.9" fill="#c41e2e"/>
<circle cx="140.10" cy="145.07" r="0.9" fill="#c41e2e"/>
<circle cx="140.30" cy="144.98" r="0.9" fill="#c41e2e"/>
<circle cx="140.50" cy="144.90" r="0.9" fill="#c41e2e"/>
<circle cx="140.70" cy="144.76" r="0.9" fill="#c41e2e"/>
<circle cx="140.90" cy="144.80" r="0.9" fill="#c41e2e"/>
<circle cx="141.10" cy="144.74" r="0.9" fill="#c41e2e"/>
<circle cx="141.30" cy="144.65" r="0.9" fill="#c41e2e"/>
<circle cx="141.50" cy="144.97" r="0.9" fill="#c41e2e"/>
<circle cx="141.70" cy="144.80" r="0.9" fill="#c41e2e"/>
<circle cx="141.90" cy="145.12" r="0.9" fill="#c41e2e"/>
<circle cx="142.10" cy="144.67" r="0.9" fill="#c41e2e"/>
<circle cx="142.30" cy="145.19" r="0.9" fill="#c41e2e"/>
<circle cx="142.50" cy="145.07" r="0.9" fill="#c41e2e"/>
<circle cx="142.70" cy="145.21" r="0.9" fill="#c41e2e"/>
<circle cx="142.90" cy="145.21" r="0.9" fill="#c41e2e"/>
<circle cx="143.10" cy="145.22" r="0.9" fill="#c41e2e"/>
<circle cx="143.30" cy="145.03" r="0.9" fill="#c41e2e"/>
<circle cx="143.50" cy="144.70" r="0.9" fill="#c41e2e"/>
<circle cx="143.70" cy="145.15" r="0.9" fill="#c41e2e"/>
<circle cx="143.90" cy="144.81" r="0.9" fill="#c41e2e"/>
<circle cx="144.10" cy="144.90" r="0.9" fill="#c41e2e"/>
<circle cx="144.30" cy="145.12" r="0.9" fill="#c41e2e"/>
<circle cx="144.50" cy="145.05" r="0.9" fill="#c41e2e"/>
<circle cx="144.70" cy="144.99" r="0.9" fill="#c41e2e"/>
<circle cx="144.90" cy="145.32" r="0.9" fill="#c41e2e"/>
<circle cx="145.10" cy="145.13" r="0.9" fill="#c41e2e"/>
<circle cx="145.30" cy="144.98" r="0.9" fill="#c41e2e"/>
<circle cx="145.50" cy="144.93" r="0.9" fill="#c41e2e"/>
<circle cx="145.70" cy="145.31" r="0.9" fill="#c41e2e"/>
<circle cx="145.90" cy="145.09" r="0.9" fill="#c41e2e"/>
<circle cx="146.10" cy="145.28" r="0.9" fill="#c41e2e"/>
<circle cx="146.30" cy="145.04" r="0.9" fill="#c41e2e"/>
<circle cx="146.50" cy="144.95" r="0.9" fill="#c41e2e"/>
<circle cx="146.70" cy="145.17" r="0.9" fill="#c41e2e"/>
<circle cx="146.90" cy="145.35" r="0.9" fill="#c41e2e"/>
<circle cx="147.10" cy="144.97" r="0.9" fill="#c41e2e"/>
<circle cx="147.30" cy="145.36" r="0.9" fill="#c41e2e"/>
<circle cx="147.50" cy="145.45" r="0.9" fill="#c41e2e"/>
<circle cx="147.70" cy="145.39" r="0.9" fill="#c41e2e"/>
<circle cx="147.90" cy="145.41" r="0.9" fill="#c41e2e"/>
<circle cx="148.10" cy="144.94" r="0.9" fill="#c41e2e"/>
<circle cx="148.30" cy="145.32" r="0.9" fill="#c41e2e"/>
<circle cx="148.50" cy="145.48" r="0.9" fill="#c41e2e"/>
<circle cx="148.70" cy="145.00" r="0.9" fill="#c41e2e"/>
<circle cx="148.90" cy="145.15" r="0.9" fill="#c41e2e"/>
<circle cx="149.10" cy="145.16" r="0.9" fill="#c41e2e"/>
<circle cx="149.30" cy="145.33" r="0.9" fill="#c41e2e"/>
<circle cx="149.50" cy="145.29" r="0.9" fill="#c41e2e"/>
<circle cx="149.70" cy="145.33" r="0.9" fill="#c41e2e"/>
<circle cx="149.90" cy="145.53" r="0.9" fill="#c41e2e"/>
<circle cx="150.10" cy="145.08" r="0.9" fill="#c41e2e"/>
<circle cx="150.30" cy="145.13" r="0.9" fill="#c41e2e"/>
<circle cx="150.50" cy="145.19" r="0.9" fill="#c41e2e"/>
<circle cx="150.70" cy="145.21" r="0.9" fill="#c41e2e"/>
<circle cx="150.90" cy="145.19" r="0.9" fill="#c41e2e"/>
<circle cx="151.10" cy="145.75" r="0.9" fill="#c41e2e"/>
<circle cx="151.30" cy="145.70" r="0.9" fill="#c41e2e"/>
<circle cx="151.50" cy="145.26" r="0.9" fill="#c41e2e"/>
<circle cx="151.70" cy="145.53" r="0.9" fill="#c41e2e"/>
<circle cx="151.90" cy="145.44" r="0.9" fill="#c41e2e"/>
<circle cx="152.10" cy="145.46" r="0.9" fill="#c41e2e"/>
<circle cx="152.30" cy="145.50" r="0.9" fill="#c41e2e"/>
<circle cx="152.50" cy="145.70" r="0.9" fill="#c41e2e"/>
<circle cx="152.70" cy="145.68" r="0.9" fill="#c41e2e"/>
<circle cx="152.90" cy="145.57" r="0.9" fill="#c41e2e"/>
<circle cx="153.10" cy="145.49" r="0.9" fill="#c41e2e"/>
<circle cx="153.30" cy="145.60" r="0.9" fill="#c41e2e"/>
<circle cx="153.50" cy="145.50" r="0.9" fill="#c41e2e"/>
<circle cx="153.70" cy="145.79" r="0.9" fill="#c41e2e"/>
<circle cx="153.90" cy="145.91" r="0.9" fill="#c41e2e"/>
<circle cx="154.10" cy="145.74" r="0.9" fill="#c41e2e"/>
<circle cx="154.30" cy="145.59" r="0.9" fill="#c41e2e"/>
<circle cx="154.50" cy="145.67" r="0.9" fill="#c41e2e"/>
<circle cx="154.70" cy="145.82" r="0.9" fill="#c41e2e"/>
<circle cx="154.90" cy="145.99" r="0.9" fill="#c41e2e"/>
<circle cx="155.10" cy="146.13" r="0.9" fill="#c41e2e"/>
<circle cx="155.30" cy="145.92" r="0.9" fill="#c41e2e"/>
<circle cx="155.50" cy="146.20" r="0.9" fill="#c41e2e"/>
<circle cx="155.70" cy="146.13" r="0.9" fill="#c41e2e"/>
<circle cx="155.90" cy="146.05" r="0.9" fill="#c41e2e"/>
<circle cx="156.10" cy="146.05" r="0.9" fill="#c41e2e"/>
<circle cx="156.30" cy="146.17" r="0.9" fill="#c41e2e"/>
<circle cx="156.50" cy="146.33" r="0.9" fill="#c41e2e"/>
<circle cx="156.70" cy="146.20" r="0.9" fill="#c41e2e"/>
<circle cx="156.90" cy="146.41" r="0.9" fill="#c41e2e"/>
<circle cx="157.10" cy="146.31" r="0.9" fill="#c41e2e"/>
<circle cx="157.30" cy="146.22" r="0.9" fill="#c41e2e"/>
<circle cx="157.50" cy="146.44" r="0.9" fill="#c41e2e"/>
<circle cx="157.70" cy="146.59" r="0.9" fill="#c41e2e"/>
<circle cx="157.90" cy="146.26" r="0.9" fill="#c41e2e"/>
<circle cx="158.10" cy="146.52" r="0.9" fill="#c41e2e"/>
<circle cx="158.30" cy="146.58" r="0.9" fill="#c41e2e"/>
<circle cx="158.50" cy="146.90" r="0.9" fill="#c41e2e"/>
<circle cx="158.70" cy="146.99" r="0.9" fill="#c41e2e"/>
<circle cx="158.90" cy="146.72" r="0.9" fill="#c41e2e"/>
<circle cx="159.10" cy="147.09" r="0.9" fill="#c41e2e"/>
<circle cx="159.30" cy="147.09" r="0.9" fill="#c41e2e"/>
<circle cx="159.50" cy="146.84" r="0.9" fill="#c41e2e"/>
<circle cx="159.70" cy="147.02" r="0.9" fill="#c41e2e"/>
<circle cx="159.90" cy="146.89" r="0.9" fill="#c41e2e"/>
<circle cx="160.10" cy="147.38" r="0.9" fill="#c41e2e"/>
<circle cx="160.30" cy="147.36" r="0.9" fill="#c41e2e"/>
<circle cx="160.50" cy="147.58" r="0.9" fill="#c41e2e"/>
<circle cx="160.70" cy="147.60" r="0.9" fill="#c41e2e"/>
<circle cx="160.90" cy="147.61" r="0.9" fill="#c41e2e"/>
<circle cx="161.10" cy="147.74" r="0.9" fill="#c41e2e"/>
<circle cx="161.30" cy="147.73" r="0.9" fill="#c41e2e"/>
<circle cx="161.50" cy="147.55" r="0.9" fill="#c41e2e"/>
<circle cx="161.70" cy="147.94" r="0.9" fill="#c41e2e"/>
<circle cx="161.90" cy="147.70" r="0.9" fill="#c41e2e"/>
<circle cx="162.10" cy="147.89" r="0.9" fill="#c41e2e"/>
<circle cx="162.30" cy="148.38" r="0.9" fill="#c41e2e"/>
<circle cx="162.50" cy="148.06" r="0.9" fill="#c41e2e"/>
<circle cx="162.70" cy="148.22" r="0.9" fill="#c41e2e"/>
<circle cx="162.90" cy="148.35" r="0.9" fill="#c41e2e"/>
<circle cx="163.10" cy="148.96" r="0.9" fill="#c41e2e"/>
<circle cx="163.30" cy="148.68" r="0.9" fill="#c41e2e"/>
<circle cx="163.50" cy="148.74" r="0.9" fill="#c41e2e"/>
<circle cx="163.70" cy="149.38" r="0.9" fill="#c41e2e"/>
<circle cx="163.90" cy="149.12" r="0.9" fill="#c41e2e"/>
<circle cx="164.10" cy="149.73" r="0.9" fill="#c41e2e"/>
<circle cx="164.30" cy="149.81" r="0.9" fill="#c41e2e"/>
<circle cx="164.50" cy="150.10" r="0.9" fill="#c41e2e"/>
<circle cx="164.70" cy="150.37" r="0.9" fill="#c41e2e"/>
<circle cx="164.90" cy="150.36" r="0.9" fill="#c41e2e"/>
<circle cx="165.10" cy="150.72" r="0.9" fill="#c41e2e"/>
<circle cx="165.30" cy="150.50" r="0.9" fill="#c41e2e"/>
<circle cx="165.50" cy="151.19" r="0.9" fill="#c41e2e"/>
<circle cx="165.70" cy="151.30" r="0.9" fill="#c41e2e"/>
<circle cx="165.90" cy="151.71" r="0.9" fill="#c41e2e"/>
<circle cx="166.10" cy="151.64" r="0.9" fill="#c41e2e"/>
<circle cx="166.30" cy="152.34" r="0.9" fill="#c41e2e"/>
<circle cx="166.50" cy="152.79" r="0.9" fill="#c41e2e"/>
<circle cx="166.70" cy="152.62" r="0.9" fill="#c41e2e"/>
<circle cx="166.90" cy="153.16" r="0.9" fill="#c41e2e"/>
<circle cx="167.10" cy="153.71" r="0.9" fill="#c41e2e"/>
<circle cx="167.30" cy="154.30" r="0.9" fill="#c41e2e"/>
<circle cx="167.50" cy="154.40" r="0.9" fill="#c41e2e"/>
<circle cx="167.70" cy="154.86" r="0.9" fill="#c41e2e"/>
<circle cx="167.90" cy="155.42" r="0.9" fill="#c41e2e"/>
<circle cx="168.10" cy="156.20" r="0.9" fill="#c41e2e"/>
<circle cx="168.30" cy="156.88" r="0.9" fill="#c41e2e"/>
<circle cx="168.50" cy="157.31" r="0.9" fill="#c41e2e"/>
<circle cx="168.70" cy="157.99" r="0.9" fill="#c41e2e"/>
<circle cx="168.90" cy="158.75" r="0.9" fill="#c41e2e"/>
<circle cx="169.10" cy="159.51" r="0.9" fill="#c41e2e"/>
<circle cx="169.30" cy="160.41" r="0.9" fill="#c41e2e"/>
<circle cx="169.50" cy="161.14" r="0.9" fill="#c41e2e"/>
<circle cx="169.70" cy="162.38" r="0.9" fill="#c41e2e"/>
<circle cx="169.90" cy="163.74" r="0.9" fill="#c41e2e"/>
<circle cx="170.10" cy="164.56" r="0.9" fill="#c41e2e"/>
<circle cx="170.30" cy="166.01" r="0.9" fill="#c41e2e"/>
<circle cx="170.50" cy="167.00" r="0.9" fill="#c41e2e"/>
<circle cx="170.70" cy="168.78" r="0.9" fill="#c41e2e"/>
<circle cx="170.90" cy="170.38" r="0.9" fill="#c41e2e"/>
<circle cx="171.10" cy="172.02" r="0.9" fill="#c41e2e"/>
<circle cx="171.30" cy="173.75" r="0.9" fill="#c41e2e"/>
<circle cx="171.50" cy="175.67" r="0.9" fill="#c41e2e"/>
<circle cx="171.70" cy="177.86" r="0.9" fill="#c41e2e"/>
<circle cx="171.90" cy="180.24" r="0.9" fill="#c41e2e"/>
<circle cx="172.10" cy="182.15" r="0.9" fill="#c41e2e"/>
<circle cx="172.30" cy="184.61" r="0.9" fill="#c41e2e"/>
<circle cx="172.50" cy="187.61" r="0.9" fill="#c41e2e"/>
<circle cx="172.70" cy="190.42" r="0.9" fill="#c41e2e"/>
<circle cx="172.90" cy="192.95" r="0.9" fill="#c41e2e"/>
<circle cx="173.10" cy="195.71" r="0.9" fill="#c41e2e"/>
<circle cx="173.30" cy="198.65" r="0.9" fill="#c41e2e"/>
<circle cx="173.50" cy="201.01" r="0.9" fill="#c41e2e"/>
<circle cx="173.70" cy="203.59" r="0.9" fill="#c41e2e"/>
<circle cx="173.90" cy="205.82" r="0.9" fill="#c41e2e"/>
<circle cx="174.10" cy="208.01" r="0.9" fill="#c41e2e"/>
<circle cx="174.30" cy="209.40" r="0.9" fill="#c41e2e"/>
<circle cx="174.50" cy="210.42" r="0.9" fill="#c41e2e"/>
<circle cx="174.70" cy="211.25" r="0.9" fill="#c41e2e"/>
<circle cx="174.90" cy="211.40" r="0.9" fill="#c41e2e"/>
<circle cx="175.10" cy="210.46" r="0.9" fill="#c41e2e"/>
<circle cx="175.30" cy="209.63" r="0.9" fill="#c41e2e"/>
<circle cx="175.50" cy="207.91" r="0.9" fill="#c41e2e"/>
<circle cx="175.70" cy="206.22" r="0.9" fill="#c41e2e"/>
<circle cx="175.90" cy="203.78" r="0.9" fill="#c41e2e"/>
<circle cx="176.10" cy="201.06" r="0.9" fill="#c41e2e"/>
<circle cx="176.30" cy="198.35" r="0.9" fill="#c41e2e"/>
<circle cx="176.50" cy="195.46" r="0.9" fill="#c41e2e"/>
<circle cx="176.70" cy="192.93" r="0.9" fill="#c41e2e"/>
<circle cx="176.90" cy="190.10" r="0.9" fill="#c41e2e"/>
<circle cx="177.10" cy="187.27" r="0.9" fill="#c41e2e"/>
<circle cx="177.30" cy="184.77" r="0.9" fill="#c41e2e"/>
<circle cx="177.50" cy="182.25" r="0.9" fill="#c41e2e"/>
<circle cx="177.70" cy="180.16" r="0.9" fill="#c41e2e"/>
<circle cx="177.90" cy="177.56" r="0.9" fill="#c41e2e"/>
<circle cx="178.10" cy="175.98" r="0.9" fill="#c41e2e"/>
<circle cx="178.30" cy="173.72" r="0.9" fill="#c41e2e"/>
<circle cx="178.50" cy="171.98" r="0.9" fill="#c41e2e"/>
<circle cx="178.70" cy="170.21" r="0.9" fill="#c41e2e"/>
<circle cx="178.90" cy="168.86" r="0.9" fill="#c41e2e"/>
<circle cx="179.10" cy="167.40" r="0.9" fill="#c41e2e"/>
<circle cx="179.30" cy="165.89" r="0.9" fill="#c41e2e"/>
<circle cx="179.50" cy="164.60" r="0.9" fill="#c41e2e"/>
<circle cx="179.70" cy="163.59" r="0.9" fill="#c41e2e"/>
<circle cx="179.90" cy="162.59" r="0.9" fill="#c41e2e"/>
<circle cx="180.10" cy="161.33" r="0.9" fill="#c41e2e"/>
<circle cx="180.30" cy="160.60" r="0.9" fill="#c41e2e"/>
<circle cx="180.50" cy="159.88" r="0.9" fill="#c41e2e"/>
<circle cx="180.70" cy="158.79" r="0.9" fill="#c41e2e"/>
<circle cx="180.90" cy="157.90" r="0.9" fill="#c41e2e"/>
<circle cx="181.10" cy="157.22" r="0.9" fill="#c41e2e"/>
<circle cx="181.30" cy="156.86" r="0.9" fill="#c41e2e"/>
<circle cx="181.50" cy="156.24" r="0.9" fill="#c41e2e"/>
<circle cx="181.70" cy="155.85" r="0.9" fill="#c41e2e"/>
<circle cx="181.90" cy="155.26" r="0.9" fill="#c41e2e"/>
<circle cx="182.10" cy="154.40" r="0.9" fill="#c41e2e"/>
<circle cx="182.30" cy="153.91" r="0.9" fill="#c41e2e"/>
<circle cx="182.50" cy="153.52" r="0.9" fill="#c41e2e"/>
<circle cx="182.70" cy="153.08" r="0.9" fill="#c41e2e"/>
<circle cx="182.90" cy="153.01" r="0.9" fill="#c41e2e"/>
<circle cx="183.10" cy="152.74" r="0.9" fill="#c41e2e"/>
<circle cx="183.30" cy="152.43" r="0.9" fill="#c41e2e"/>
<circle cx="183.50" cy="151.73" r="0.9" fill="#c41e2e"/>
<circle cx="183.70" cy="151.80" r="0.9" fill="#c41e2e"/>
<circle cx="183.90" cy="151.18" r="0.9" fill="#c41e2e"/>
<circle cx="184.10" cy="150.98" r="0.9" fill="#c41e2e"/>
<circle cx="184.30" cy="150.91" r="0.9" fill="#c41e2e"/>
<circle cx="184.50" cy="150.29" r="0.9" fill="#c41e2e"/>
<circle cx="184.70" cy="150.07" r="0.9" fill="#c41e2e"/>
<circle cx="184.90" cy="150.30" r="0.9" fill="#c41e2e"/>
<circle cx="185.10" cy="149.77" r="0.9" fill="#c41e2e"/>
<circle cx="185.30" cy="149.62" r="0.9" fill="#c41e2e"/>
<circle cx="185.50" cy="149.57" r="0.9" fill="#c41e2e"/>
<circle cx="185.70" cy="149.45" r="0.9" fill="#c41e2e"/>
<circle cx="185.90" cy="148.88" r="0.9" fill="#c41e2e"/>
<circle cx="186.10" cy="148.92" r="0.9" fill="#c41e2e"/>
<circle cx="186.30" cy="148.83" r="0.9" fill="#c41e2e"/>
<circle cx="186.50" cy="148.72" r="0.9" fill="#c41e2e"/>
<circle cx="186.70" cy="148.42" r="0.9" fill="#c41e2e"/>
<circle cx="186.90" cy="148.51" r="0.9" fill="#c41e2e"/>
<circle cx="187.10" cy="148.61" r="0.9" fill="#c41e2e"/>
<circle cx="187.30" cy="148.15" r="0.9" fill="#c41e2e"/>
<circle cx="187.50" cy="148.13" r="0.9" fill="#c41e2e"/>
<circle cx="187.70" cy="147.76" r="0.9" fill="#c41e2e"/>
<circle cx="187.90" cy="147.75" r="0.9" fill="#c41e2e"/>
<circle cx="188.10" cy="147.89" r="0.9" fill="#c41e2e"/>
<circle cx="188.30" cy="147.46" r="0.9" fill="#c41e2e"/>
<circle cx="188.50" cy="147.83" r="0.9" fill="#c41e2e"/>
<circle cx="188.70" cy="147.76" r="0.9" fill="#c41e2e"/>
<circle cx="188.90" cy="147.18" r="0.9" fill="#c41e2e"/>
<circle cx="189.10" cy="147.61" r="0.9" fill="#c41e2e"/>
<circle cx="189.30" cy="147.19" r="0.9" fill="#c41e2e"/>
<circle cx="189.50" cy="147.35" r="0.9" fill="#c41e2e"/>
<circle cx="189.70" cy="147.27" r="0.9" fill="#c41e2e"/>
<circle cx="189.90" cy="146.92" r="0.9" fill="#c41e2e"/>
<circle cx="190.10" cy="147.08" r="0.9" fill="#c41e2e"/>
<circle cx="190.30" cy="147.01" r="0.9" fill="#c41e2e"/>
<circle cx="190.50" cy="147.03" r="0.9" fill="#c41e2e"/>
<circle cx="190.70" cy="146.65" r="0.9" fill="#c41e2e"/>
<circle cx="190.90" cy="146.89" r="0.9" fill="#c41e2e"/>
<circle cx="191.10" cy="146.95" r="0.9" fill="#c41e2e"/>
<circle cx="191.30" cy="146.73" r="0.9" fill="#c41e2e"/>
<circle cx="191.50" cy="146.59" r="0.9" fill="#c41e2e"/>
<circle cx="191.70" cy="146.29" r="0.9" fill="#c41e2e"/>
<circle cx="191.90" cy="146.47" r="0.9" fill="#c41e2e"/>
<circle cx="192.10" cy="146.33" r="0.9" fill="#c41e2e"/>
<circle cx="192.30" cy="146.51" r="0.9" fill="#c41e2e"/>
<circle cx="192.50" cy="146.44" r="0.9" fill="#c41e2e"/>
<circle cx="192.70" cy="146.33" r="0.9" fill="#c41e2e"/>
<circle cx="192.90" cy="146.06" r="0.9" fill="#c41e2e"/>
<circle cx="193.10" cy="146.29" r="0.9" fill="#c41e2e"/>
<circle cx="193.30" cy="146.25" r="0.9" fill="#c41e2e"/>
<circle cx="193.50" cy="145.94" r="0.9" fill="#c41e2e"/>
<circle cx="193.70" cy="146.33" r="0.9" fill="#c41e2e"/>
<circle cx="193.90" cy="146.15" r="0.9" fill="#c41e2e"/>
<circle cx="194.10" cy="145.80" r="0.9" fill="#c41e2e"/>
<circle cx="194.30" cy="146.25" r="0.9" fill="#c41e2e"/>
<circle cx="194.50" cy="145.74" r="0.9" fill="#c41e2e"/>
<circle cx="194.70" cy="145.83" r="0.9" fill="#c41e2e"/>
<circle cx="194.90" cy="146.03" r="0.9" fill="#c41e2e"/>
<circle cx="195.10" cy="145.92" r="0.9" fill="#c41e2e"/>
<circle cx="195.30" cy="145.87" r="0.9" fill="#c41e2e"/>
<circle cx="195.50" cy="145.90" r="0.9" fill="#c41e2e"/>
<circle cx="195.70" cy="145.76" r="0.9" fill="#c41e2e"/>
<circle cx="195.90" cy="145.64" r="0.9" fill="#c41e2e"/>
<circle cx="196.10" cy="145.54" r="0.9" fill="#c41e2e"/>
<circle cx="196.30" cy="145.45" r="0.9" fill="#c41e2e"/>
<circle cx="196.50" cy="145.81" r="0.9" fill="#c41e2e"/>
<circle cx="196.70" cy="145.81" r="0.9" fill="#c41e2e"/>
<circle cx="196.90" cy="145.66" r="0.9" fill="#c41e2e"/>
<circle cx="197.10" cy="145.75" r="0.9" fill="#c41e2e"/>
<circle cx="197.30" cy="145.50" r="0.9" fill="#c41e2e"/>
<circle cx="197.50" cy="145.43" r="0.9" fill="#c41e2e"/>
<circle cx="197.70" cy="145.48" r="0.9" fill="#c41e2e"/>
<circle cx="197.90" cy="145.75" r="0.9" fill="#c41e2e"/>
<circle cx="198.10" cy="145.23" r="0.9" fill="#c41e2e"/>
<circle cx="198.30" cy="145.49" r="0.9" fill="#c41e2e"/>
<circle cx="198.50" cy="145.32" r="0.9" fill="#c41e2e"/>
<circle cx="198.70" cy="145.61" r="0.9" fill="#c41e2e"/>
<circle cx="198.90" cy="145.34" r="0.9" fill="#c41e2e"/>
<circle cx="199.10" cy="145.31" r="0.9" fill="#c41e2e"/>
<circle cx="199.30" cy="145.34" r="0.9" fill="#c41e2e"/>
<circle cx="199.50" cy="145.40" r="0.9" fill="#c41e2e"/>
<circle cx="199.70" cy="145.53" r="0.9" fill="#c41e2e"/>
<circle cx="199.90" cy="145.26" r="0.9" fill="#c41e2e"/>
<circle cx="200.10" cy="145.54" r="0.9" fill="#c41e2e"/>
<circle cx="200.30" cy="145.08" r="0.9" fill="#c41e2e"/>
<circle cx="200.50" cy="145.16" r="0.9" fill="#c41e2e"/>
<circle cx="200.70" cy="145.05" r="0.9" fill="#c41e2e"/>
<circle cx="200.90" cy="145.04" r="0.9" fill="#c41e2e"/>
<circle cx="201.10" cy="145.43" r="0.9" fill="#c41e2e"/>
<circle cx="201.30" cy="145.38" r="0.9" fill="#c41e2e"/>
<circle cx="201.50" cy="145.04" r="0.9" fill="#c41e2e"/>
<circle cx="201.70" cy="145.03" r="0.9" fill="#c41e2e"/>
<circle cx="201.90" cy="145.16" r="0.9" fill="#c41e2e"/>
<circle cx="202.10" cy="145.34" r="0.9" fill="#c41e2e"/>
<circle cx="202.30" cy="145.37" r="0.9" fill="#c41e2e"/>
<circle cx="202.50" cy="145.32" r="0.9" fill="#c41e2e"/>
<circle cx="202.70" cy="145.21" r="0.9" fill="#c41e2e"/>
<circle cx="202.90" cy="144.93" r="0.9" fill="#c41e2e"/>
<circle cx="203.10" cy="145.07" r="0.9" fill="#c41e2e"/>
<circle cx="203.30" cy="144.94" r="0.9" fill="#c41e2e"/>
<circle cx="203.50" cy="145.13" r="0.9" fill="#c41e2e"/>
<circle cx="203.70" cy="145.14" r="0.9" fill="#c41e2e"/>
<circle cx="203.90" cy="144.91" r="0.9" fill="#c41e2e"/>
<circle cx="204.10" cy="144.93" r="0.9" fill="#c41e2e"/>
<circle cx="204.30" cy="145.24" r="0.9" fill="#c41e2e"/>
<circle cx="204.50" cy="144.78" r="0.9" fill="#c41e2e"/>
<circle cx="204.70" cy="145.24" r="0.9" fill="#c41e2e"/>
<circle cx="204.90" cy="145.28" r="0.9" fill="#c41e2e"/>
<circle cx="205.10" cy="145.30" r="0.9" fill="#c41e2e"/>
<circle cx="205.30" cy="144.96" r="0.9" fill="#c41e2e"/>
<circle cx="205.50" cy="145.05" r="0.9" fill="#c41e2e"/>
<circle cx="205.70" cy="145.06" r="0.9" fill="#c41e2e"/>
<circle cx="205.90" cy="145.08" r="0.9" fill="#c41e2e"/>
<circle cx="206.10" cy="145.28" r="0.9" fill="#c41e2e"/>
<circle cx="206.30" cy="145.10" r="0.9" fill="#c41e2e"/>
<circle cx="206.50" cy="144.86" r="0.9" fill="#c41e2e"/>
<circle cx="206.70" cy="145.18" r="0.9" fill="#c41e2e"/>
<circle cx="206.90" cy="144.95" r="0.9" fill="#c41e2e"/>
<circle cx="207.10" cy="145.01" r="0.9" fill="#c41e2e"/>
<circle cx="207.30" cy="145.08" r="0.9" fill="#c41e2e"/>
<circle cx="207.50" cy="144.64" r="0.9" fill="#c41e2e"/>
<circle cx="207.70" cy="145.09" r="0.9" fill="#c41e2e"/>
<circle cx="207.90" cy="145.02" r="0.9" fill="#c41e2e"/>
<circle cx="208.10" cy="144.91" r="0.9" fill="#c41e2e"/>
<circle cx="208.30" cy="144.92" r="0.9" fill="#c41e2e"/>
<circle cx="208.50" cy="144.88" r="0.9" fill="#c41e2e"/>
<circle cx="208.70" cy="144.71" r="0.9" fill="#c41e2e"/>
<circle cx="208.90" cy="144.91" r="0.9" fill="#c41e2e"/>
<circle cx="209.10" cy="144.61" r="0.9" fill="#c41e2e"/>
<circle cx="209.30" cy="144.88" r="0.9" fill="#c41e2e"/>
<circle cx="209.50" cy="144.96" r="0.9" fill="#c41e2e"/>
<circle cx="209.70" cy="144.83" r="0.9" fill="#c41e2e"/>
<circle cx="209.90" cy="144.90" r="0.9" fill="#c41e2e"/>
<circle cx="210.10" cy="145.13" r="0.9" fill="#c41e2e"/>
<circle cx="210.30" cy="145.08" r="0.9" fill="#c41e2e"/>
<circle cx="210.50" cy="144.62" r="0.9" fill="#c41e2e"/>
<circle cx="210.70" cy="145.01" r="0.9" fill="#c41e2e"/>
<text x="181.6" y="215.3" font-size="6.6" fill="#2b2b2b">Q<tspan font-size="5.4" dy="2.8">0</tspan><tspan dy="-2.8">= 20 M</tspan></text>
<text transform="translate(114.3,182.0) rotate(-90)" font-size="8.3" fill="#2b2b2b" text-anchor="middle">Transmission</text>
<text x="175.50" y="239.50" font-size="8" text-anchor="middle" fill="#2b2b2b" font-weight="normal" >Frequency (MHz)</text>
<defs><clipPath id="cdt"><rect x="259" y="19.5" width="190.4" height="47.1"/></clipPath><clipPath id="cet"><rect x="485.6" y="19.5" width="190.7" height="47.1"/></clipPath></defs>
<rect x="259.00" y="19.50" width="190.40" height="47.40" stroke="#6a6a6a" stroke-width="1" fill="none"/>
<line x1="257.20" y1="23.00" x2="259.00" y2="23.00" stroke="#6a6a6a" stroke-width="1" />
<text x="254.70" y="25.90" font-size="8" text-anchor="end" fill="#2b2b2b" font-weight="normal" >5</text>
<line x1="257.20" y1="43.00" x2="259.00" y2="43.00" stroke="#6a6a6a" stroke-width="1" />
<text x="254.70" y="45.90" font-size="8" text-anchor="end" fill="#2b2b2b" font-weight="normal" >0</text>
<line x1="257.20" y1="63.00" x2="259.00" y2="63.00" stroke="#6a6a6a" stroke-width="1" />
<text x="254.70" y="65.90" font-size="8" text-anchor="end" fill="#2b2b2b" font-weight="normal" >-5</text>
<line x1="274.40" y1="66.90" x2="274.40" y2="68.70" stroke="#6a6a6a" stroke-width="1" />
<text x="274.40" y="78.60" font-size="8" text-anchor="middle" fill="#2b2b2b" font-weight="normal" >1045</text>
<line x1="315.75" y1="66.90" x2="315.75" y2="68.70" stroke="#6a6a6a" stroke-width="1" />
<text x="315.75" y="78.60" font-size="8" text-anchor="middle" fill="#2b2b2b" font-weight="normal" >1055</text>
<line x1="357.10" y1="66.90" x2="357.10" y2="68.70" stroke="#6a6a6a" stroke-width="1" />
<text x="357.10" y="78.60" font-size="8" text-anchor="middle" fill="#2b2b2b" font-weight="normal" >1065</text>
<line x1="398.45" y1="66.90" x2="398.45" y2="68.70" stroke="#6a6a6a" stroke-width="1" />
<text x="398.45" y="78.60" font-size="8" text-anchor="middle" fill="#2b2b2b" font-weight="normal" >1075</text>
<line x1="439.80" y1="66.90" x2="439.80" y2="68.70" stroke="#6a6a6a" stroke-width="1" />
<text x="439.80" y="78.60" font-size="8" text-anchor="middle" fill="#2b2b2b" font-weight="normal" >1085</text>
<line x1="290.50" y1="17.70" x2="290.50" y2="19.50" stroke="#6a6a6a" stroke-width="1" />
<text x="290.50" y="15.00" font-size="8" text-anchor="middle" fill="#2b2b2b" font-weight="normal" >200</text>
<line x1="354.20" y1="17.70" x2="354.20" y2="19.50" stroke="#6a6a6a" stroke-width="1" />
<text x="354.20" y="15.00" font-size="8" text-anchor="middle" fill="#2b2b2b" font-weight="normal" >0</text>
<line x1="417.60" y1="17.70" x2="417.60" y2="19.50" stroke="#6a6a6a" stroke-width="1" />
<text x="417.60" y="15.00" font-size="8" text-anchor="middle" fill="#2b2b2b" font-weight="normal" >-200</text>
<text x="354.20" y="5.90" font-size="8" text-anchor="middle" fill="#2b2b2b" font-weight="normal" >Mode number</text>
<text x="354.20" y="85.80" font-size="8" text-anchor="middle" fill="#2b2b2b" font-weight="normal" >Wavelength (nm)</text>
<text transform="translate(240.0,66.6) rotate(-90)" font-size="8" fill="#2b2b2b">D<tspan font-size="6" dy="2">int</tspan><tspan dy="-2">/2π (GHz)</tspan></text>
<text x="233.80" y="11.20" font-size="10.5" text-anchor="start" fill="#111" font-weight="bold" >d</text>
<g clip-path="url(#cdt)">
<path d="M259,59.8 L281,34.0" stroke="#5aa6dc" stroke-width="1.4" fill="none"/>
<path d="M279.70,35.20 C280.67,34.17 283.70,30.83 285.50,29.00 C287.30,27.17 289.12,25.37 290.50,24.20 C291.88,23.03 292.88,22.52 293.80,22.00 C294.72,21.48 294.97,21.12 296.00,21.10 C297.03,21.08 297.67,21.38 300.00,21.90 C302.33,22.42 306.67,23.37 310.00,24.20 C313.33,25.03 316.67,25.70 320.00,26.90 C323.33,28.10 326.67,29.88 330.00,31.40 C333.33,32.92 336.67,34.52 340.00,36.00 C343.33,37.48 347.42,39.13 350.00,40.30 C352.58,41.47 353.83,42.72 355.50,43.00 C357.17,43.28 357.58,42.88 360.00,42.00 C362.42,41.12 366.67,39.18 370.00,37.70 C373.33,36.22 376.67,34.55 380.00,33.10 C383.33,31.65 386.67,30.23 390.00,29.00 C393.33,27.77 396.67,26.60 400.00,25.70 C403.33,24.80 407.50,24.00 410.00,23.60 C412.50,23.20 413.33,23.02 415.00,23.30 C416.67,23.58 417.50,23.08 420.00,25.30 C422.50,27.52 426.67,32.82 430.00,36.60 C433.33,40.38 436.83,44.55 440.00,48.00 C443.17,51.45 447.00,55.22 449.00,57.30 C451.00,59.38 451.50,59.97 452.00,60.50" stroke="#2e52a4" stroke-width="2.9" fill="none" stroke-linecap="round"/>
<path d="M279.70,35.20 C280.67,34.17 283.70,30.83 285.50,29.00 C287.30,27.17 289.12,25.37 290.50,24.20 C291.88,23.03 292.88,22.52 293.80,22.00 C294.72,21.48 294.97,21.12 296.00,21.10 C297.03,21.08 297.67,21.38 300.00,21.90 C302.33,22.42 306.67,23.37 310.00,24.20 C313.33,25.03 316.67,25.70 320.00,26.90 C323.33,28.10 326.67,29.88 330.00,31.40 C333.33,32.92 336.67,34.52 340.00,36.00 C343.33,37.48 347.42,39.13 350.00,40.30 C352.58,41.47 353.83,42.72 355.50,43.00 C357.17,43.28 357.58,42.88 360.00,42.00 C362.42,41.12 366.67,39.18 370.00,37.70 C373.33,36.22 376.67,34.55 380.00,33.10 C383.33,31.65 386.67,30.23 390.00,29.00 C393.33,27.77 396.67,26.60 400.00,25.70 C403.33,24.80 407.50,24.00 410.00,23.60 C412.50,23.20 413.33,23.02 415.00,23.30 C416.67,23.58 417.50,23.08 420.00,25.30 C422.50,27.52 426.67,32.82 430.00,36.60 C433.33,40.38 436.83,44.55 440.00,48.00 C443.17,51.45 447.00,55.22 449.00,57.30 C451.00,59.38 451.50,59.97 452.00,60.50" stroke="#70b6e8" stroke-width="1.5" fill="none"/>
<path d="M325.00,70.00 C325.50,69.50 326.50,68.43 328.00,67.00 C329.50,65.57 332.00,63.18 334.00,61.40 C336.00,59.62 338.17,57.73 340.00,56.30 C341.83,54.87 343.33,53.85 345.00,52.80 C346.67,51.75 348.25,50.73 350.00,50.00 C351.75,49.27 353.83,48.52 355.50,48.40 C357.17,48.28 358.42,48.60 360.00,49.30 C361.58,50.00 363.33,51.40 365.00,52.60 C366.67,53.80 368.33,55.17 370.00,56.50 C371.67,57.83 373.33,59.20 375.00,60.60 C376.67,62.00 378.67,63.83 380.00,64.90 C381.33,65.97 382.00,66.15 383.00,67.00 C384.00,67.85 385.50,69.50 386.00,70.00" stroke="#2e52a4" stroke-width="2.9" fill="none" stroke-linecap="round"/>
<path d="M325.00,70.00 C325.50,69.50 326.50,68.43 328.00,67.00 C329.50,65.57 332.00,63.18 334.00,61.40 C336.00,59.62 338.17,57.73 340.00,56.30 C341.83,54.87 343.33,53.85 345.00,52.80 C346.67,51.75 348.25,50.73 350.00,50.00 C351.75,49.27 353.83,48.52 355.50,48.40 C357.17,48.28 358.42,48.60 360.00,49.30 C361.58,50.00 363.33,51.40 365.00,52.60 C366.67,53.80 368.33,55.17 370.00,56.50 C371.67,57.83 373.33,59.20 375.00,60.60 C376.67,62.00 378.67,63.83 380.00,64.90 C381.33,65.97 382.00,66.15 383.00,67.00 C384.00,67.85 385.50,69.50 386.00,70.00" stroke="#70b6e8" stroke-width="1.5" fill="none"/>
</g>
<rect x="485.60" y="19.50" width="190.70" height="47.40" stroke="#6a6a6a" stroke-width="1" fill="none"/>
<line x1="483.80" y1="24.50" x2="485.60" y2="24.50" stroke="#6a6a6a" stroke-width="1" />
<text x="481.30" y="27.40" font-size="8" text-anchor="end" fill="#2b2b2b" font-weight="normal" >2</text>
<line x1="483.80" y1="35.00" x2="485.60" y2="35.00" stroke="#6a6a6a" stroke-width="1" />
<text x="481.30" y="37.90" font-size="8" text-anchor="end" fill="#2b2b2b" font-weight="normal" >0</text>
<line x1="483.80" y1="45.40" x2="485.60" y2="45.40" stroke="#6a6a6a" stroke-width="1" />
<text x="481.30" y="48.30" font-size="8" text-anchor="end" fill="#2b2b2b" font-weight="normal" >-2</text>
<line x1="483.80" y1="55.80" x2="485.60" y2="55.80" stroke="#6a6a6a" stroke-width="1" />
<text x="481.30" y="58.70" font-size="8" text-anchor="end" fill="#2b2b2b" font-weight="normal" >-4</text>
<line x1="500.60" y1="66.90" x2="500.60" y2="68.70" stroke="#6a6a6a" stroke-width="1" />
<text x="500.60" y="78.60" font-size="8" text-anchor="middle" fill="#2b2b2b" font-weight="normal" >1520</text>
<line x1="539.80" y1="66.90" x2="539.80" y2="68.70" stroke="#6a6a6a" stroke-width="1" />
<text x="539.80" y="78.60" font-size="8" text-anchor="middle" fill="#2b2b2b" font-weight="normal" >1540</text>
<line x1="579.00" y1="66.90" x2="579.00" y2="68.70" stroke="#6a6a6a" stroke-width="1" />
<text x="579.00" y="78.60" font-size="8" text-anchor="middle" fill="#2b2b2b" font-weight="normal" >1560</text>
<line x1="618.20" y1="66.90" x2="618.20" y2="68.70" stroke="#6a6a6a" stroke-width="1" />
<text x="618.20" y="78.60" font-size="8" text-anchor="middle" fill="#2b2b2b" font-weight="normal" >1580</text>
<line x1="657.30" y1="66.90" x2="657.30" y2="68.70" stroke="#6a6a6a" stroke-width="1" />
<text x="657.30" y="78.60" font-size="8" text-anchor="middle" fill="#2b2b2b" font-weight="normal" >1600</text>
<line x1="517.50" y1="17.70" x2="517.50" y2="19.50" stroke="#6a6a6a" stroke-width="1" />
<text x="517.50" y="15.00" font-size="8" text-anchor="middle" fill="#2b2b2b" font-weight="normal" >200</text>
<line x1="580.70" y1="17.70" x2="580.70" y2="19.50" stroke="#6a6a6a" stroke-width="1" />
<text x="580.70" y="15.00" font-size="8" text-anchor="middle" fill="#2b2b2b" font-weight="normal" >0</text>
<line x1="644.20" y1="17.70" x2="644.20" y2="19.50" stroke="#6a6a6a" stroke-width="1" />
<text x="644.20" y="15.00" font-size="8" text-anchor="middle" fill="#2b2b2b" font-weight="normal" >-200</text>
<text x="580.95" y="5.90" font-size="8" text-anchor="middle" fill="#2b2b2b" font-weight="normal" >Mode number</text>
<text x="580.95" y="85.80" font-size="8" text-anchor="middle" fill="#2b2b2b" font-weight="normal" >Wavelength (nm)</text>
<text transform="translate(464.7,66.6) rotate(-90)" font-size="8" fill="#2b2b2b">D<tspan font-size="6" dy="2">int</tspan><tspan dy="-2">/2π (GHz)</tspan></text>
<text x="458.50" y="11.20" font-size="10.5" text-anchor="start" fill="#111" font-weight="bold" >e</text>
<g clip-path="url(#cet)">
<path d="M497.00,69.50 C497.22,69.12 497.05,69.58 498.30,67.20 C499.55,64.82 502.43,59.10 504.50,55.20 C506.57,51.30 508.63,47.07 510.70,43.80 C512.77,40.53 514.83,37.90 516.90,35.60 C518.97,33.30 521.03,31.38 523.10,30.00 C525.17,28.62 527.23,27.92 529.30,27.30 C531.37,26.68 533.72,26.43 535.50,26.30 C537.28,26.17 537.58,26.23 540.00,26.50 C542.42,26.77 546.67,27.25 550.00,27.90 C553.33,28.55 556.67,29.57 560.00,30.40 C563.33,31.23 566.67,32.22 570.00,32.90 C573.33,33.58 577.50,34.25 580.00,34.50 C582.50,34.75 583.33,34.52 585.00,34.40 C586.67,34.28 587.50,34.20 590.00,33.80 C592.50,33.40 596.67,32.63 600.00,32.00 C603.33,31.37 606.67,30.52 610.00,30.00 C613.33,29.48 617.17,28.98 620.00,28.90 C622.83,28.82 625.00,29.12 627.00,29.50 C629.00,29.88 629.83,30.25 632.00,31.20 C634.17,32.15 637.00,33.27 640.00,35.20 C643.00,37.13 647.50,40.67 650.00,42.80 C652.50,44.93 653.33,45.93 655.00,48.00 C656.67,50.07 658.33,52.10 660.00,55.20 C661.67,58.30 663.92,64.13 665.00,66.60 C666.08,69.07 666.25,69.43 666.50,70.00" stroke="#c0182c" stroke-width="3.1" fill="none"/>
<path d="M497.00,69.50 C497.22,69.12 497.05,69.58 498.30,67.20 C499.55,64.82 502.43,59.10 504.50,55.20 C506.57,51.30 508.63,47.07 510.70,43.80 C512.77,40.53 514.83,37.90 516.90,35.60 C518.97,33.30 521.03,31.38 523.10,30.00 C525.17,28.62 527.23,27.92 529.30,27.30 C531.37,26.68 533.72,26.43 535.50,26.30 C537.28,26.17 537.58,26.23 540.00,26.50 C542.42,26.77 546.67,27.25 550.00,27.90 C553.33,28.55 556.67,29.57 560.00,30.40 C563.33,31.23 566.67,32.22 570.00,32.90 C573.33,33.58 577.50,34.25 580.00,34.50 C582.50,34.75 583.33,34.52 585.00,34.40 C586.67,34.28 587.50,34.20 590.00,33.80 C592.50,33.40 596.67,32.63 600.00,32.00 C603.33,31.37 606.67,30.52 610.00,30.00 C613.33,29.48 617.17,28.98 620.00,28.90 C622.83,28.82 625.00,29.12 627.00,29.50 C629.00,29.88 629.83,30.25 632.00,31.20 C634.17,32.15 637.00,33.27 640.00,35.20 C643.00,37.13 647.50,40.67 650.00,42.80 C652.50,44.93 653.33,45.93 655.00,48.00 C656.67,50.07 658.33,52.10 660.00,55.20 C661.67,58.30 663.92,64.13 665.00,66.60 C666.08,69.07 666.25,69.43 666.50,70.00" stroke="#e4505e" stroke-width="1.2" fill="none" opacity="0.9"/>
</g>
<rect x="258.80" y="90.20" width="190.60" height="130.20" stroke="#6a6a6a" stroke-width="1" fill="none"/>
<line x1="257.00" y1="99.20" x2="258.80" y2="99.20" stroke="#6a6a6a" stroke-width="1" />
<text x="255.00" y="101.40" font-size="8" text-anchor="end" fill="#2b2b2b" font-weight="normal" >50</text>
<line x1="257.00" y1="145.70" x2="258.80" y2="145.70" stroke="#6a6a6a" stroke-width="1" />
<text x="255.00" y="147.90" font-size="8" text-anchor="end" fill="#2b2b2b" font-weight="normal" >0</text>
<line x1="257.00" y1="192.40" x2="258.80" y2="192.40" stroke="#6a6a6a" stroke-width="1" />
<text x="255.00" y="194.60" font-size="8" text-anchor="end" fill="#2b2b2b" font-weight="normal" >-50</text>
<line x1="258.80" y1="220.40" x2="258.80" y2="222.20" stroke="#6a6a6a" stroke-width="1" />
<text x="258.80" y="231.60" font-size="8" text-anchor="middle" fill="#2b2b2b" font-weight="normal" >1058</text>
<line x1="296.92" y1="220.40" x2="296.92" y2="222.20" stroke="#6a6a6a" stroke-width="1" />
<text x="296.92" y="231.60" font-size="8" text-anchor="middle" fill="#2b2b2b" font-weight="normal" >1060</text>
<line x1="335.04" y1="220.40" x2="335.04" y2="222.20" stroke="#6a6a6a" stroke-width="1" />
<text x="335.04" y="231.60" font-size="8" text-anchor="middle" fill="#2b2b2b" font-weight="normal" >1062</text>
<line x1="373.16" y1="220.40" x2="373.16" y2="222.20" stroke="#6a6a6a" stroke-width="1" />
<text x="373.16" y="231.60" font-size="8" text-anchor="middle" fill="#2b2b2b" font-weight="normal" >1064</text>
<line x1="411.28" y1="220.40" x2="411.28" y2="222.20" stroke="#6a6a6a" stroke-width="1" />
<text x="411.28" y="231.60" font-size="8" text-anchor="middle" fill="#2b2b2b" font-weight="normal" >1066</text>
<line x1="449.40" y1="220.40" x2="449.40" y2="222.20" stroke="#6a6a6a" stroke-width="1" />
<text x="449.40" y="231.60" font-size="8" text-anchor="middle" fill="#2b2b2b" font-weight="normal" >1068</text>
<text x="354.10" y="239.60" font-size="8" text-anchor="middle" fill="#2b2b2b" font-weight="normal" >Wavelength (nm)</text>
<text transform="translate(241.4,149.2) rotate(-90)" font-size="8" fill="#2b2b2b" text-anchor="middle">Optical power (dBm)</text>
<defs><clipPath id="cdb"><rect x="259.3" y="90.7" width="189.6" height="129.2"/></clipPath></defs>
<g clip-path="url(#cdb)">
<polygon points="298.00,208.40 300.00,206.60 305.00,205.00 310.00,202.90 318.00,197.60 325.00,191.20 330.00,186.40 340.00,177.40 350.00,166.20 355.00,162.00 358.60,160.20 358.60,173.60 355.00,175.80 350.00,180.50 340.00,191.20 330.00,198.50 325.00,201.50 318.00,204.90 310.00,207.30 305.00,208.30 300.00,209.30 298.00,209.60" fill="#7088c6" opacity="1"/>
<polygon points="360.60,155.60 364.00,158.00 367.00,160.80 370.00,165.40 374.90,172.30 379.80,180.60 384.80,188.60 388.50,195.20 392.20,200.60 395.00,202.60 395.00,203.20 392.20,202.20 388.50,199.00 385.00,194.50 380.00,189.70 375.00,183.90 370.00,178.80 365.00,176.00 360.60,173.80" fill="#7088c6" opacity="1"/>
<line x1="297.70" y1="208.40" x2="298.30" y2="210.20" stroke="#1f3f9c" stroke-width="1.25"/>
<line x1="300.00" y1="206.50" x2="300.60" y2="209.84" stroke="#1f3f9c" stroke-width="1.25"/>
<line x1="302.30" y1="205.77" x2="302.90" y2="209.38" stroke="#1f3f9c" stroke-width="1.25"/>
<line x1="304.60" y1="205.03" x2="305.20" y2="208.92" stroke="#1f3f9c" stroke-width="1.25"/>
<line x1="306.90" y1="204.08" x2="307.50" y2="208.46" stroke="#1f3f9c" stroke-width="1.25"/>
<line x1="309.20" y1="203.11" x2="309.80" y2="208.00" stroke="#1f3f9c" stroke-width="1.25"/>
<line x1="311.50" y1="201.71" x2="312.10" y2="207.36" stroke="#1f3f9c" stroke-width="1.25"/>
<line x1="313.80" y1="200.18" x2="314.40" y2="206.67" stroke="#1f3f9c" stroke-width="1.25"/>
<line x1="316.10" y1="198.66" x2="316.70" y2="205.98" stroke="#1f3f9c" stroke-width="1.25"/>
<line x1="318.40" y1="196.96" x2="319.00" y2="205.16" stroke="#1f3f9c" stroke-width="1.25"/>
<line x1="320.70" y1="194.86" x2="321.30" y2="204.04" stroke="#1f3f9c" stroke-width="1.25"/>
<line x1="323.00" y1="192.75" x2="323.60" y2="202.93" stroke="#1f3f9c" stroke-width="1.25"/>
<line x1="325.30" y1="190.62" x2="325.90" y2="201.74" stroke="#1f3f9c" stroke-width="1.25"/>
<line x1="327.60" y1="188.42" x2="328.20" y2="200.36" stroke="#1f3f9c" stroke-width="1.25"/>
<line x1="329.90" y1="186.22" x2="330.50" y2="198.95" stroke="#1f3f9c" stroke-width="1.25"/>
<line x1="332.20" y1="184.15" x2="332.80" y2="197.27" stroke="#1f3f9c" stroke-width="1.25"/>
<line x1="334.50" y1="182.08" x2="335.10" y2="195.60" stroke="#1f3f9c" stroke-width="1.25"/>
<line x1="336.80" y1="180.01" x2="337.40" y2="193.92" stroke="#1f3f9c" stroke-width="1.25"/>
<line x1="339.10" y1="177.94" x2="339.70" y2="192.24" stroke="#1f3f9c" stroke-width="1.25"/>
<line x1="341.40" y1="175.50" x2="342.00" y2="189.98" stroke="#1f3f9c" stroke-width="1.25"/>
<line x1="343.70" y1="172.92" x2="344.30" y2="187.52" stroke="#1f3f9c" stroke-width="1.25"/>
<line x1="346.00" y1="170.34" x2="346.60" y2="185.06" stroke="#1f3f9c" stroke-width="1.25"/>
<line x1="348.30" y1="167.77" x2="348.90" y2="182.60" stroke="#1f3f9c" stroke-width="1.25"/>
<line x1="350.60" y1="165.44" x2="351.20" y2="180.25" stroke="#1f3f9c" stroke-width="1.25"/>
<line x1="352.90" y1="163.51" x2="353.50" y2="178.09" stroke="#1f3f9c" stroke-width="1.25"/>
<line x1="355.20" y1="161.75" x2="355.80" y2="176.09" stroke="#1f3f9c" stroke-width="1.25"/>
<line x1="357.50" y1="160.60" x2="358.10" y2="174.69" stroke="#1f3f9c" stroke-width="1.25"/>
<line x1="360.30" y1="155.60" x2="360.90" y2="174.40" stroke="#1f3f9c" stroke-width="1.25"/>
<line x1="362.60" y1="157.22" x2="363.20" y2="175.55" stroke="#1f3f9c" stroke-width="1.25"/>
<line x1="364.90" y1="159.12" x2="365.50" y2="176.71" stroke="#1f3f9c" stroke-width="1.25"/>
<line x1="367.20" y1="161.57" x2="367.80" y2="178.00" stroke="#1f3f9c" stroke-width="1.25"/>
<line x1="369.50" y1="165.09" x2="370.10" y2="179.29" stroke="#1f3f9c" stroke-width="1.25"/>
<line x1="371.80" y1="168.36" x2="372.40" y2="181.54" stroke="#1f3f9c" stroke-width="1.25"/>
<line x1="374.10" y1="171.60" x2="374.70" y2="183.89" stroke="#1f3f9c" stroke-width="1.25"/>
<line x1="376.40" y1="175.35" x2="377.00" y2="186.47" stroke="#1f3f9c" stroke-width="1.25"/>
<line x1="378.70" y1="179.24" x2="379.30" y2="189.14" stroke="#1f3f9c" stroke-width="1.25"/>
<line x1="381.00" y1="183.00" x2="381.60" y2="191.55" stroke="#1f3f9c" stroke-width="1.25"/>
<line x1="383.30" y1="186.68" x2="383.90" y2="193.76" stroke="#1f3f9c" stroke-width="1.25"/>
<line x1="385.60" y1="190.56" x2="386.20" y2="196.26" stroke="#1f3f9c" stroke-width="1.25"/>
<line x1="387.90" y1="194.66" x2="388.50" y2="199.21" stroke="#1f3f9c" stroke-width="1.25"/>
<line x1="390.20" y1="198.12" x2="390.80" y2="201.33" stroke="#1f3f9c" stroke-width="1.25"/>
<line x1="392.50" y1="201.03" x2="393.10" y2="203.01" stroke="#1f3f9c" stroke-width="1.25"/>
<path d="M258.80,213.09 L259.60,212.48 L260.40,212.75 L261.20,212.58 L262.00,212.39 L262.80,212.81 L263.60,213.17 L264.40,212.52 L265.20,213.03 L266.00,212.82 L266.80,212.22 L267.60,212.91 L268.40,212.61 L269.20,212.90 L270.00,212.65 L270.80,212.64 L271.60,212.20 L272.40,212.63 L273.20,212.72 L274.00,212.61 L274.80,212.15 L275.60,212.36 L276.40,211.96 L277.20,211.46 L278.00,211.26 L278.80,211.17 L279.60,211.16 L280.40,211.00 L281.20,211.21 L282.00,211.28 L282.80,210.99 L283.60,210.75 L284.40,210.85 L285.20,210.44 L286.00,210.74 L286.80,211.17 L287.60,210.96 L288.40,210.88 L289.20,211.63 L290.00,211.17 L290.80,210.54 L291.60,210.26 L292.40,210.14 L293.20,209.93 L294.00,209.27 L294.80,208.77 L295.60,208.84 L296.40,209.32 L297.20,208.58 L298.00,208.80 L298.80,208.44 L299.60,208.36" stroke="#2848a0" stroke-width="1.4" fill="none"/>
<path d="M392.00,202.54 L392.80,202.96 L393.60,203.01 L394.40,203.14 L395.20,203.45 L396.00,203.73 L396.80,204.23 L397.60,204.00 L398.40,204.04 L399.20,204.45 L400.00,204.49 L400.80,204.79 L401.60,204.34 L402.40,204.69 L403.20,204.76 L404.00,204.53 L404.80,205.35 L405.60,204.82 L406.40,204.79 L407.20,205.17 L408.00,204.99 L408.80,205.42 L409.60,205.27 L410.40,205.16 L411.20,205.18 L412.00,205.79 L412.80,205.49 L413.60,205.97 L414.40,205.79 L415.20,206.23 L416.00,205.79 L416.80,205.82 L417.60,205.90 L418.40,206.41 L419.20,206.33 L420.00,206.18 L420.80,206.08 L421.60,206.65 L422.40,206.98 L423.20,206.78 L424.00,206.40 L424.80,206.53 L425.60,206.67 L426.40,206.84 L427.20,206.83 L428.00,206.95 L428.80,207.53 L429.60,207.82 L430.40,207.36 L431.20,208.08 L432.00,207.79 L432.80,208.15 L433.60,208.34 L434.40,208.46 L435.20,207.83 L436.00,208.15 L436.80,208.49 L437.60,208.86 L438.40,208.28 L439.20,208.54 L440.00,209.09 L440.80,208.60 L441.60,208.92 L442.40,208.98 L443.20,209.35 L444.00,209.65 L444.80,209.15 L445.60,209.70 L446.40,209.80 L447.20,209.98 L448.00,209.85 L448.80,210.25 L449.60,209.89" stroke="#2848a0" stroke-width="1.4" fill="none"/>
<polygon points="356.50,161.10 356.60,160.95 356.70,160.79 356.80,160.60 356.90,160.40 357.00,160.18 357.10,159.94 357.20,159.67 357.30,159.37 357.40,159.03 357.50,158.66 357.60,158.24 357.70,157.77 357.80,157.24 357.90,156.64 358.00,155.97 358.10,155.21 358.20,154.34 358.30,153.37 358.40,152.26 358.50,151.02 358.60,149.64 358.70,148.11 358.80,146.45 358.90,144.70 359.00,142.90 359.10,141.16 359.20,139.58 359.30,138.32 359.40,137.49 359.50,137.20 359.60,137.49 359.70,138.32 359.80,139.58 359.90,141.16 360.00,142.90 360.10,144.70 360.20,146.45 360.30,148.11 360.40,149.64 360.50,151.02 360.60,152.26 360.70,153.37 360.80,154.34 360.90,155.21 361.00,155.97 361.10,156.64 361.20,157.24 361.30,157.77 361.40,158.24 361.50,158.66 361.60,159.03 361.70,159.37 361.80,159.67 361.90,159.94 362.00,160.18 362.10,160.40 362.20,160.60 362.30,160.79 362.40,160.95 362.50,161.10" fill="#2a4aa2" opacity="0.9"/>
</g>
<rect x="389.2" y="94.5" width="56.400000000000034" height="68.4" fill="#fff" stroke="#6a6a6a" stroke-width="1"/>
<line x1="389.20" y1="104.70" x2="390.70" y2="104.70" stroke="#6a6a6a" stroke-width="0.8" />
<line x1="389.20" y1="119.10" x2="390.70" y2="119.10" stroke="#6a6a6a" stroke-width="0.8" />
<line x1="389.20" y1="133.50" x2="390.70" y2="133.50" stroke="#6a6a6a" stroke-width="0.8" />
<line x1="389.20" y1="147.90" x2="390.70" y2="147.90" stroke="#6a6a6a" stroke-width="0.8" />
<line x1="389.20" y1="162.90" x2="389.20" y2="161.40" stroke="#6a6a6a" stroke-width="0.8" />
<line x1="417.40" y1="162.90" x2="417.40" y2="161.40" stroke="#6a6a6a" stroke-width="0.8" />
<line x1="445.60" y1="162.90" x2="445.60" y2="161.40" stroke="#6a6a6a" stroke-width="0.8" />
<path d="M389.70,158.04 L390.25,157.49 L390.80,159.14 L391.35,158.24 L391.90,157.61 L392.45,157.31 L393.00,158.96 L393.55,158.62 L394.10,158.93 L394.65,157.96 L395.20,158.26 L395.75,157.26 L396.30,158.93 L396.85,156.87 L397.40,158.20 L397.95,159.08 L398.50,158.83 L399.05,157.09 L399.60,157.51 L400.15,159.33 L400.70,158.73 L401.25,159.44 L401.80,159.42 L402.35,158.15 L402.90,159.49 L403.45,159.00 L404.00,157.80 L404.55,157.91 L405.10,157.02 L405.65,158.00 L406.20,159.67 L406.75,157.11 L407.30,158.51 L407.85,157.13 L408.40,157.04 L408.95,158.75 L409.50,157.52 L410.05,156.95 L410.60,157.26 L411.15,158.73 L411.70,158.56 L412.25,156.83 L412.80,157.49 L413.35,159.70 L413.90,157.46 L414.45,158.49 L414.90,157.60 L415.00,157.55 L415.10,157.48 L415.20,157.41 L415.30,157.32 L415.40,157.22 L415.50,157.11 L415.60,156.97 L415.70,156.82 L415.80,156.63 L415.90,156.41 L416.00,156.14 L416.10,155.81 L416.20,155.40 L416.30,154.89 L416.40,154.22 L416.50,153.35 L416.60,152.18 L416.70,150.56 L416.80,148.27 L416.90,144.91 L417.00,139.85 L417.10,132.18 L417.20,121.15 L417.30,108.55 L417.40,102.20 L417.50,108.55 L417.60,121.15 L417.70,132.18 L417.80,139.85 L417.90,144.91 L418.00,148.27 L418.10,150.56 L418.20,152.18 L418.30,153.35 L418.40,154.22 L418.50,154.89 L418.60,155.40 L418.70,155.81 L418.80,156.14 L418.90,156.41 L419.00,156.63 L419.10,156.82 L419.20,156.97 L419.30,157.11 L419.40,157.22 L419.50,157.32 L419.60,157.41 L419.70,157.48 L419.80,157.55 L419.90,157.60 L419.95,157.14 L420.50,156.87 L421.05,159.70 L421.60,157.40 L422.15,159.48 L422.70,157.06 L423.25,158.20 L423.80,157.47 L424.35,159.29 L424.90,158.65 L425.45,158.73 L426.00,159.08 L426.55,159.42 L427.10,157.84 L427.65,158.61 L428.20,158.14 L428.75,157.13 L429.30,159.31 L429.85,158.58 L430.40,159.24 L430.95,157.42 L431.50,158.42 L432.05,158.19 L432.60,158.98 L433.15,157.03 L433.70,157.84 L434.25,158.25 L434.80,157.01 L435.35,158.46 L435.90,159.01 L436.45,158.07 L437.00,158.75 L437.55,158.62 L438.10,157.44 L438.65,157.85 L439.20,159.79 L439.75,157.81 L440.30,158.09 L440.85,157.05 L441.40,157.45 L441.95,157.30 L442.50,159.59 L443.05,158.98 L443.60,159.42 L444.15,159.76 L444.70,158.64" stroke="#2848a0" stroke-width="1.0" fill="none" stroke-linejoin="round"/>
<text x="389.20" y="172.20" font-size="8" text-anchor="middle" fill="#2b2b2b" font-weight="normal" >-10</text>
<text x="417.40" y="172.20" font-size="8" text-anchor="middle" fill="#2b2b2b" font-weight="normal" >0</text>
<text x="445.60" y="172.20" font-size="8" text-anchor="middle" fill="#2b2b2b" font-weight="normal" >10</text>
<text x="395.10" y="181.70" font-size="8" text-anchor="start" fill="#2b2b2b" font-weight="normal" >Freq. (MHz)</text>
<text x="395.00" y="191.60" font-size="8" text-anchor="start" fill="#2b2b2b" font-weight="normal" >+20.429 GHz</text>
<text transform="translate(382.59999999999997,128.7) rotate(-90)" font-size="8" fill="#2b2b2b" text-anchor="middle">Power (20 dB / div.)</text>
<rect x="485.60" y="90.20" width="190.80" height="130.20" stroke="#6a6a6a" stroke-width="1" fill="none"/>
<line x1="483.80" y1="99.20" x2="485.60" y2="99.20" stroke="#6a6a6a" stroke-width="1" />
<text x="481.80" y="101.40" font-size="8" text-anchor="end" fill="#2b2b2b" font-weight="normal" >50</text>
<line x1="483.80" y1="145.70" x2="485.60" y2="145.70" stroke="#6a6a6a" stroke-width="1" />
<text x="481.80" y="147.90" font-size="8" text-anchor="end" fill="#2b2b2b" font-weight="normal" >0</text>
<line x1="483.80" y1="192.40" x2="485.60" y2="192.40" stroke="#6a6a6a" stroke-width="1" />
<text x="481.80" y="194.60" font-size="8" text-anchor="end" fill="#2b2b2b" font-weight="normal" >-50</text>
<line x1="485.60" y1="220.40" x2="485.60" y2="222.20" stroke="#6a6a6a" stroke-width="1" />
<text x="485.60" y="231.60" font-size="8" text-anchor="middle" fill="#2b2b2b" font-weight="normal" >1520</text>
<line x1="533.30" y1="220.40" x2="533.30" y2="222.20" stroke="#6a6a6a" stroke-width="1" />
<text x="533.30" y="231.60" font-size="8" text-anchor="middle" fill="#2b2b2b" font-weight="normal" >1540</text>
<line x1="581.00" y1="220.40" x2="581.00" y2="222.20" stroke="#6a6a6a" stroke-width="1" />
<text x="581.00" y="231.60" font-size="8" text-anchor="middle" fill="#2b2b2b" font-weight="normal" >1560</text>
<line x1="628.70" y1="220.40" x2="628.70" y2="222.20" stroke="#6a6a6a" stroke-width="1" />
<text x="628.70" y="231.60" font-size="8" text-anchor="middle" fill="#2b2b2b" font-weight="normal" >1580</text>
<line x1="676.40" y1="220.40" x2="676.40" y2="222.20" stroke="#6a6a6a" stroke-width="1" />
<text x="676.40" y="231.60" font-size="8" text-anchor="middle" fill="#2b2b2b" font-weight="normal" >1600</text>
<text x="581.00" y="239.60" font-size="8" text-anchor="middle" fill="#2b2b2b" font-weight="normal" >Wavelength (nm)</text>
<text transform="translate(466.3,149.2) rotate(-90)" font-size="8" fill="#2b2b2b" text-anchor="middle">Optical power (dBm)</text>
<defs><clipPath id="ceb"><rect x="486.1" y="90.7" width="189.8" height="129.2"/></clipPath></defs>
<g clip-path="url(#ceb)">
<polygon points="515.00,210.70 515.54,210.66 516.30,210.61 517.19,210.55 518.15,210.48 519.11,210.39 520.00,210.30 520.86,210.19 521.74,210.07 522.62,209.93 523.48,209.79 524.28,209.64 525.00,209.50 525.60,209.36 526.11,209.22 526.56,209.07 527.00,208.93 527.47,208.77 528.00,208.60 528.61,208.42 529.26,208.22 529.94,208.02 530.63,207.81 531.32,207.60 532.00,207.40 532.67,207.20 533.33,207.01 534.00,206.83 534.67,206.63 535.33,206.42 536.00,206.20 536.66,206.00 537.30,205.83 537.94,205.65 538.59,205.41 539.28,205.08 540.00,204.60 540.78,203.94 541.59,203.13 542.44,202.21 543.30,201.25 544.16,200.30 545.00,199.40 545.83,198.55 546.67,197.71 547.50,196.88 548.33,196.04 549.17,195.22 550.00,194.40 550.83,193.59 551.67,192.80 552.50,192.01 553.33,191.22 554.17,190.42 555.00,189.60 555.87,188.73 556.78,187.80 557.69,186.86 558.56,185.96 559.34,185.12 560.00,184.40 560.48,183.85 560.81,183.44 561.06,183.11 561.30,182.78 561.59,182.37 562.00,181.80 562.55,181.06 563.19,180.20 563.88,179.26 564.59,178.29 565.31,177.32 566.00,176.40 566.67,175.52 567.33,174.63 568.00,173.76 568.67,172.89 569.33,172.04 570.00,171.20 570.67,170.38 571.33,169.56 572.00,168.76 572.67,167.97 573.33,167.22 574.00,166.50 574.69,165.80 575.41,165.11 576.12,164.44 576.81,163.83 577.45,163.27 578.00,162.80 578.45,162.43 578.81,162.14 579.12,161.93 579.40,161.74 579.68,161.58 580.00,161.40 580.37,161.21 580.77,161.03 581.17,160.86 581.55,160.71 581.87,160.59 582.10,160.50 582.50,161.00 582.50,212.00 515.00,212.00" fill="#c31a2d"/>
<polygon points="582.80,160.60 583.04,160.65 583.38,160.71 583.77,160.79 584.20,160.90 584.62,161.03 585.00,161.20 585.33,161.39 585.64,161.60 585.95,161.83 586.27,162.11 586.61,162.47 587.00,162.90 587.44,163.44 587.93,164.09 588.44,164.79 588.96,165.54 589.49,166.28 590.00,167.00 590.50,167.69 591.00,168.38 591.50,169.08 592.00,169.77 592.50,170.48 593.00,171.20 593.51,171.94 594.04,172.71 594.56,173.49 595.07,174.26 595.56,175.00 596.00,175.70 596.37,176.32 596.69,176.87 596.97,177.39 597.26,177.93 597.59,178.52 598.00,179.20 598.50,179.99 599.06,180.86 599.66,181.79 600.28,182.74 600.90,183.68 601.50,184.60 602.08,185.49 602.67,186.39 603.25,187.28 603.83,188.17 604.42,189.04 605.00,189.90 605.58,190.75 606.17,191.59 606.75,192.41 607.33,193.23 607.92,194.02 608.50,194.80 609.09,195.56 609.69,196.31 610.28,197.05 610.87,197.76 611.45,198.45 612.00,199.10 612.53,199.71 613.04,200.29 613.53,200.84 614.02,201.37 614.51,201.88 615.00,202.40 615.50,202.92 616.00,203.43 616.50,203.93 617.00,204.41 617.50,204.87 618.00,205.30 618.49,205.71 618.96,206.09 619.44,206.46 619.93,206.80 620.44,207.11 621.00,207.40 621.60,207.65 622.22,207.87 622.88,208.06 623.56,208.24 624.26,208.42 625.00,208.60 625.72,208.79 626.41,208.99 627.12,209.18 627.93,209.37 628.87,209.54 630.00,209.70 631.49,209.85 633.33,209.99 635.31,210.12 637.22,210.23 638.85,210.33 640.00,210.40 640.00,212.00 582.50,212.00 582.50,161.00" fill="#c31a2d"/>
<path d="M485.60,213.16 L486.05,212.14 L486.50,213.11 L486.95,212.27 L487.40,212.11 L487.85,213.14 L488.30,213.17 L488.75,211.49 L489.20,211.89 L489.65,213.70 L490.10,211.85 L490.55,211.99 L491.00,212.79 L491.45,211.51 L491.90,212.35 L492.35,212.83 L492.80,213.25 L493.25,213.05 L493.70,211.62 L494.15,212.23 L494.60,212.38 L495.05,213.01 L495.50,212.23 L495.95,212.91 L496.40,211.79 L496.85,212.12 L497.30,212.37 L497.75,211.40 L498.20,212.84 L498.65,213.26 L499.10,213.54 L499.55,211.33 L500.00,212.80 L500.45,211.49 L500.90,211.79 L501.35,212.14 L501.80,211.39 L502.25,212.55 L502.70,213.13 L503.15,212.93 L503.60,212.88 L504.05,212.96 L504.50,211.86 L504.95,211.33 L505.40,213.09 L505.85,212.23 L506.30,213.16 L506.75,212.51 L507.20,212.34 L507.65,211.67 L508.10,213.28 L508.55,212.12 L509.00,212.21 L509.45,212.21 L509.90,211.61 L510.35,212.34 L510.80,213.00 L511.25,213.16 L511.70,211.36 L512.15,212.40 L512.60,211.86 L513.05,214.13 L513.50,212.04 L513.95,213.09 L514.40,212.59 L514.85,213.14 L515.30,212.06 L515.75,211.91 L516.20,213.16 L516.65,211.89 L517.10,212.18 L517.55,213.53 L518.00,212.40 L518.45,212.68 L518.90,212.45 L519.35,211.18 L519.80,213.48 L520.25,212.11 L520.70,212.58 L521.15,214.39 L521.60,211.46 L522.05,212.44 L522.50,212.50 L522.95,211.41 L523.40,212.69 L523.85,211.13 L524.30,212.09 L524.75,211.22 L525.20,212.97 L525.65,211.44 L526.10,211.68 L526.55,211.11 L527.00,212.83 L527.45,212.89 L527.90,211.63 L528.35,211.88 L528.80,212.04 L529.25,212.38 L529.70,212.01 L530.15,211.94 L530.60,211.92 L531.05,211.24 L531.50,212.69 L531.95,211.17 L532.40,212.48 L532.85,211.32 L533.30,210.88 L533.75,211.59 L534.20,212.29 L534.65,212.33 L535.10,212.10 L535.55,213.06 L536.00,212.49 L536.45,211.34 L536.90,211.43 L537.35,211.39 L537.80,212.62 L538.25,212.37 L538.70,211.21 L539.15,211.91 L539.60,212.08 L540.05,211.89 L540.50,212.53 L540.95,211.56 L541.40,212.35 L541.85,211.66 L542.30,212.47 L542.75,212.29 L543.20,210.72 L543.65,211.37 L544.10,211.33 L544.55,211.70 L545.00,211.46 L545.45,212.02 L545.90,211.20 L546.35,211.40 L546.80,211.90 L547.25,212.10 L547.70,211.34 L548.15,211.36 L548.60,211.97 L549.05,212.44 L549.50,212.07 L549.95,212.28 L550.40,211.48 L550.85,210.84 L551.30,211.36 L551.75,212.38 L552.20,210.98 L552.65,211.84 L553.10,212.55 L553.55,210.97 L554.00,211.38 L554.45,211.46 L554.90,211.92 L555.35,210.79 L555.80,212.64 L556.25,212.11 L556.70,211.45 L557.15,211.44 L557.60,212.25 L558.05,211.44 L558.50,212.37 L558.95,212.35 L559.40,210.65 L559.85,211.65 L560.30,210.77 L560.75,211.54 L561.20,211.68 L561.65,212.56 L562.10,211.66 L562.55,211.20 L563.00,210.87 L563.45,211.84 L563.90,212.14 L564.35,212.32 L564.80,211.66 L565.25,211.22 L565.70,212.34 L566.15,212.25 L566.60,210.84 L567.05,211.39 L567.50,211.72 L567.95,211.37 L568.40,212.87 L568.85,211.38 L569.30,211.10 L569.75,211.99 L570.20,210.82 L570.65,211.48 L571.10,211.09 L571.55,211.03 L572.00,211.82 L572.45,212.10 L572.90,211.68 L573.35,211.86 L573.80,210.71 L574.25,212.32 L574.70,211.76 L575.15,212.40 L575.60,211.04 L576.05,212.57 L576.50,212.59 L576.95,210.96 L577.40,211.28 L577.85,212.56 L578.30,212.30 L578.75,211.68 L579.20,211.49 L579.65,211.77 L580.10,212.15 L580.55,211.71 L581.00,212.38 L581.45,211.68 L581.90,212.27 L582.35,212.20 L582.80,212.07 L583.25,211.56 L583.70,211.10 L584.15,211.73 L584.60,210.82 L585.05,211.24 L585.50,210.95 L585.95,210.99 L586.40,211.83 L586.85,211.56 L587.30,211.61 L587.75,210.80 L588.20,212.45 L588.65,211.63 L589.10,210.73 L589.55,211.23 L590.00,210.83 L590.45,211.55 L590.90,211.12 L591.35,210.97 L591.80,211.62 L592.25,211.05 L592.70,212.18 L593.15,213.46 L593.60,212.10 L594.05,211.51 L594.50,211.25 L594.95,210.93 L595.40,211.14 L595.85,211.34 L596.30,212.09 L596.75,211.97 L597.20,212.21 L597.65,211.69 L598.10,211.63 L598.55,211.88 L599.00,212.12 L599.45,212.51 L599.90,212.05 L600.35,210.69 L600.80,212.10 L601.25,211.01 L601.70,212.57 L602.15,211.58 L602.60,210.91 L603.05,211.95 L603.50,211.88 L603.95,212.40 L604.40,210.79 L604.85,211.41 L605.30,212.61 L605.75,211.16 L606.20,210.63 L606.65,212.03 L607.10,210.70 L607.55,211.29 L608.00,210.84 L608.45,211.42 L608.90,211.53 L609.35,211.30 L609.80,211.55 L610.25,211.34 L610.70,211.96 L611.15,211.80 L611.60,211.85 L612.05,211.22 L612.50,211.06 L612.95,211.20 L613.40,211.87 L613.85,212.14 L614.30,211.52 L614.75,210.80 L615.20,213.07 L615.65,211.84 L616.10,213.06 L616.55,211.02 L617.00,213.43 L617.45,211.65 L617.90,212.54 L618.35,210.71 L618.80,210.70 L619.25,212.43 L619.70,210.79 L620.15,211.31 L620.60,211.30 L621.05,210.97 L621.50,210.88 L621.95,210.80 L622.40,212.21 L622.85,211.78 L623.30,211.73 L623.75,210.88 L624.20,211.75 L624.65,211.75 L625.10,212.58 L625.55,212.15 L626.00,211.51 L626.45,212.39 L626.90,212.21 L627.35,211.68 L627.80,211.45 L628.25,212.23 L628.70,211.70 L629.15,211.78 L629.60,211.92 L630.05,211.23 L630.50,210.95 L630.95,211.76 L631.40,212.52 L631.85,211.44 L632.30,210.84 L632.75,212.27 L633.20,212.22 L633.65,211.21 L634.10,211.16 L634.55,212.06 L635.00,210.98 L635.45,211.73 L635.90,211.79 L636.35,211.18 L636.80,212.08 L637.25,212.62 L637.70,212.57 L638.15,212.22 L638.60,211.07 L639.05,213.49 L639.50,212.69 L639.95,212.51 L640.40,211.99 L640.85,212.46 L641.30,211.43 L641.75,212.66 L642.20,210.84 L642.65,211.43 L643.10,212.75 L643.55,210.97 L644.00,211.29 L644.45,212.68 L644.90,212.60 L645.35,211.41 L645.80,211.88 L646.25,211.60 L646.70,211.40 L647.15,212.67 L647.60,212.82 L648.05,211.21 L648.50,212.74 L648.95,212.63 L649.40,211.03 L649.85,210.91 L650.30,211.33 L650.75,212.69 L651.20,212.65 L651.65,213.48 L652.10,211.60 L652.55,212.11 L653.00,212.17 L653.45,210.85 L653.90,211.49 L654.35,211.93 L654.80,211.89 L655.25,211.47 L655.70,211.77 L656.15,211.68 L656.60,212.02 L657.05,212.50 L657.50,211.56 L657.95,212.49 L658.40,211.52 L658.85,210.82 L659.30,211.76 L659.75,211.70 L660.20,212.23 L660.65,214.06 L661.10,211.15 L661.55,212.13 L662.00,212.48 L662.45,212.55 L662.90,210.91 L663.35,211.01 L663.80,211.70 L664.25,212.39 L664.70,212.15 L665.15,213.23 L665.60,212.23 L666.05,211.36 L666.50,210.86 L666.95,213.00 L667.40,212.67 L667.85,212.21 L668.30,212.04 L668.75,212.48 L669.20,211.87 L669.65,211.23 L670.10,211.06 L670.55,211.69 L671.00,213.23 L671.45,212.40 L671.90,211.36 L672.35,211.13 L672.80,211.68 L673.25,211.84 L673.70,211.44 L674.15,212.33 L674.60,212.78 L675.05,212.26 L675.50,211.61 L675.95,211.66 L676.40,211.00 L676.85,212.00" stroke="#c31a2d" stroke-width="2.2" fill="none"/>
<polygon points="582.45,168.00 582.10,180.00 581.10,187.20 580.30,194.60 578.20,204.50 576.40,213.50 590.60,213.50 588.40,204.50 585.20,194.60 583.60,187.20 582.80,180.00 582.65,168.00" fill="#fff"/>
<path d="M510.5,211 L511.0,196.8 L511.5,196.8 L512.0,211" fill="#c31a2d" stroke="#c31a2d" stroke-width="0.5"/>
<path d="M657.0,210 L657.5,202 L658.0,202 L658.5,210" fill="#c31a2d" stroke="#c31a2d" stroke-width="0.5"/>
<path d="M582.0,162 L582.3,138.5 L582.7,138.5 L583.0,162" fill="#c31a2d" stroke="#c31a2d" stroke-width="0.5"/>
</g>
<rect x="616.2" y="94.5" width="57.39999999999998" height="68.5" fill="#fff" stroke="#6a6a6a" stroke-width="1"/>
<line x1="616.20" y1="104.70" x2="617.70" y2="104.70" stroke="#6a6a6a" stroke-width="0.8" />
<line x1="616.20" y1="119.10" x2="617.70" y2="119.10" stroke="#6a6a6a" stroke-width="0.8" />
<line x1="616.20" y1="133.50" x2="617.70" y2="133.50" stroke="#6a6a6a" stroke-width="0.8" />
<line x1="616.20" y1="147.90" x2="617.70" y2="147.90" stroke="#6a6a6a" stroke-width="0.8" />
<line x1="616.20" y1="163.00" x2="616.20" y2="161.50" stroke="#6a6a6a" stroke-width="0.8" />
<line x1="644.90" y1="163.00" x2="644.90" y2="161.50" stroke="#6a6a6a" stroke-width="0.8" />
<line x1="673.60" y1="163.00" x2="673.60" y2="161.50" stroke="#6a6a6a" stroke-width="0.8" />
<path d="M616.70,160.34 L617.25,159.45 L617.80,158.87 L618.35,159.48 L618.90,159.31 L619.45,159.35 L620.00,158.99 L620.55,159.07 L621.10,158.97 L621.65,159.99 L622.20,158.08 L622.75,159.86 L623.30,158.39 L623.85,160.05 L624.40,157.72 L624.95,158.95 L625.50,158.83 L626.05,159.63 L626.60,158.11 L627.15,158.29 L627.70,157.90 L628.25,159.18 L628.80,159.23 L629.35,157.50 L629.90,158.03 L630.45,158.10 L631.00,160.37 L631.55,158.87 L632.10,159.20 L632.65,158.37 L633.20,159.48 L633.75,159.94 L634.30,159.51 L634.85,157.50 L635.40,158.82 L635.95,158.97 L636.50,157.63 L637.05,159.87 L637.60,158.46 L638.15,158.38 L638.70,159.38 L639.25,159.25 L639.80,158.99 L640.35,160.08 L640.90,159.06 L641.45,158.53 L642.00,157.69 L642.40,158.28 L642.50,158.22 L642.60,158.15 L642.70,158.07 L642.80,157.98 L642.90,157.88 L643.00,157.76 L643.10,157.62 L643.20,157.46 L643.30,157.27 L643.40,157.04 L643.50,156.76 L643.60,156.42 L643.70,155.99 L643.80,155.46 L643.90,154.77 L644.00,153.86 L644.10,152.65 L644.20,150.97 L644.30,148.59 L644.40,145.11 L644.50,139.86 L644.60,131.90 L644.70,120.46 L644.80,107.38 L644.90,100.80 L645.00,107.38 L645.10,120.46 L645.20,131.90 L645.30,139.86 L645.40,145.11 L645.50,148.59 L645.60,150.97 L645.70,152.65 L645.80,153.86 L645.90,154.77 L646.00,155.46 L646.10,155.99 L646.20,156.42 L646.30,156.76 L646.40,157.04 L646.50,157.27 L646.60,157.46 L646.70,157.62 L646.80,157.76 L646.90,157.88 L647.00,157.98 L647.10,158.07 L647.20,158.15 L647.30,158.22 L647.40,158.28 L647.50,159.24 L648.05,158.22 L648.60,159.63 L649.15,159.40 L649.70,157.69 L650.25,159.75 L650.80,158.19 L651.35,160.49 L651.90,157.93 L652.45,158.36 L653.00,158.25 L653.55,160.09 L654.10,159.96 L654.65,159.24 L655.20,157.95 L655.75,158.79 L656.30,159.61 L656.85,157.67 L657.40,160.26 L657.95,160.02 L658.50,160.30 L659.05,159.60 L659.60,159.35 L660.15,160.43 L660.70,158.30 L661.25,158.42 L661.80,157.87 L662.35,158.04 L662.90,159.90 L663.45,157.79 L664.00,159.73 L664.55,158.69 L665.10,160.13 L665.65,159.78 L666.20,159.56 L666.75,160.04 L667.30,157.63 L667.85,158.30 L668.40,158.61 L668.95,158.79 L669.50,159.51 L670.05,160.14 L670.60,159.72 L671.15,160.29 L671.70,159.59 L672.25,158.57 L672.80,159.02" stroke="#c31a2d" stroke-width="1.0" fill="none" stroke-linejoin="round"/>
<text x="616.20" y="172.30" font-size="8" text-anchor="middle" fill="#2b2b2b" font-weight="normal" >-10</text>
<text x="644.90" y="172.30" font-size="8" text-anchor="middle" fill="#2b2b2b" font-weight="normal" >0</text>
<text x="673.60" y="172.30" font-size="8" text-anchor="middle" fill="#2b2b2b" font-weight="normal" >10</text>
<text x="622.10" y="181.80" font-size="8" text-anchor="start" fill="#2b2b2b" font-weight="normal" >Freq. (MHz)</text>
<text x="622.00" y="191.70" font-size="8" text-anchor="start" fill="#2b2b2b" font-weight="normal" >+20.064 GHz</text>
<text transform="translate(609.6,128.75) rotate(-90)" font-size="8" fill="#2b2b2b" text-anchor="middle">Power (20 dB / div.)</text>
</svg>
</div></body></html>
